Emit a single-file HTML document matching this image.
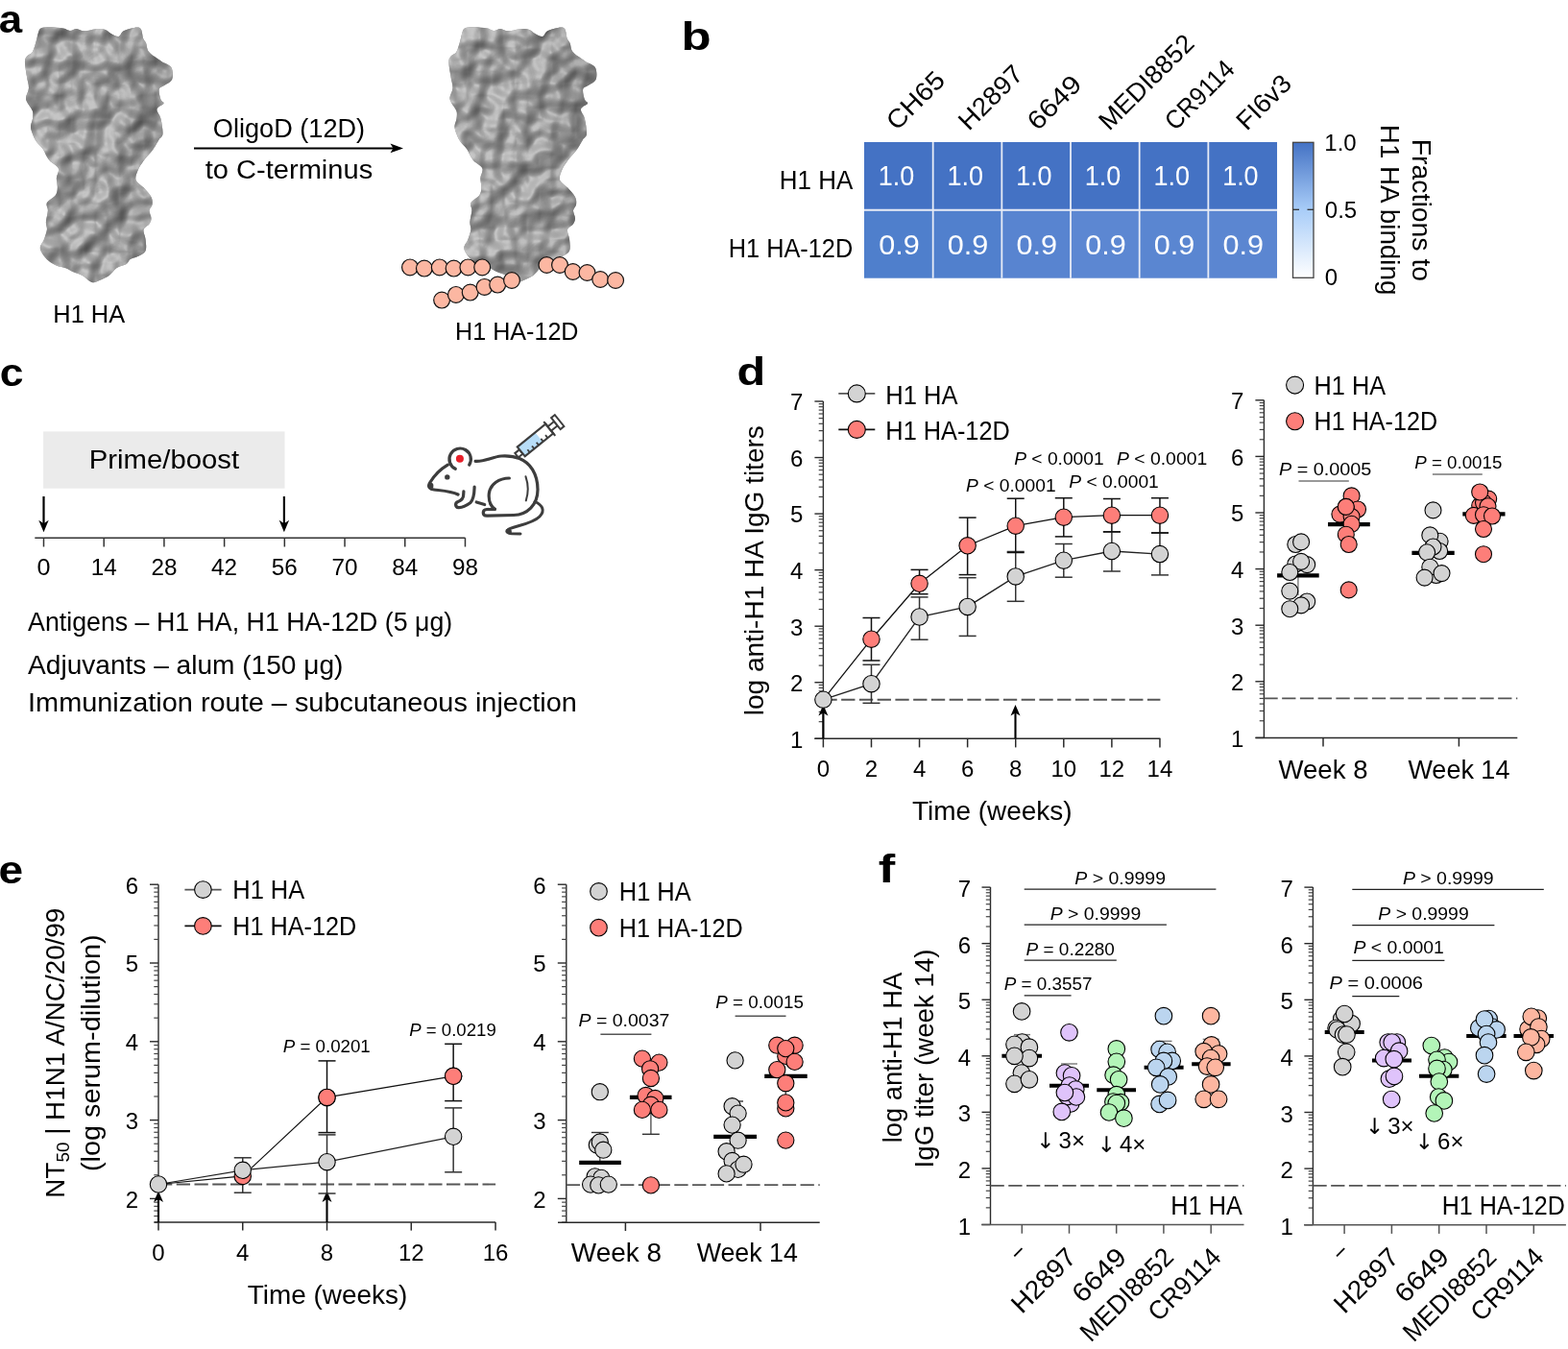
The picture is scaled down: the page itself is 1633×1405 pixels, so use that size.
<!DOCTYPE html><html><head><meta charset="utf-8"><title>Figure</title><style>html,body{margin:0;padding:0;background:#fff;overflow:hidden;width:1633px;height:1405px;}svg{display:block;} text{font-family:"Liberation Sans",sans-serif;}</style></head><body><svg width="1633" height="1405" viewBox="0 0 1633 1405" font-family="Liberation Sans, sans-serif"><rect width="1633" height="1405" fill="#fff"/><text x="-1.2" y="34.4" font-size="41" textLength="24.4" lengthAdjust="spacingAndGlyphs" font-weight="bold">a</text>
<defs><filter id="bump" x="0" y="0" width="100%" height="100%" filterUnits="objectBoundingBox" color-interpolation-filters="sRGB"><feTurbulence type="fractalNoise" baseFrequency="0.04" numOctaves="2" seed="11" result="n"/><feDiffuseLighting in="n" surfaceScale="9" diffuseConstant="1" lighting-color="#ffffff" result="l"><feDistantLight azimuth="225" elevation="48"/></feDiffuseLighting><feColorMatrix in="l" type="matrix" values="0.38 0 0 0 0.305  0.38 0 0 0 0.305  0.38 0 0 0 0.305  0 0 0 0 1" result="g"/><feSpecularLighting in="n" surfaceScale="9" specularConstant="0.12" specularExponent="25" lighting-color="#ffffff" result="sp"><feDistantLight azimuth="225" elevation="55"/></feSpecularLighting><feComposite in="sp" in2="g" operator="arithmetic" k1="0" k2="1" k3="1" k4="0" result="g2"/><feComposite in="g2" in2="SourceAlpha" operator="in"/></filter><linearGradient id="pshade" x1="0" y1="0" x2="1" y2="0"><stop offset="0" stop-color="#000" stop-opacity="0"/><stop offset="0.55" stop-color="#000" stop-opacity="0"/><stop offset="1" stop-color="#000" stop-opacity="0.12"/></linearGradient></defs>
<path d="M42.92 29.37 C44.91 28.44 48.07 28.34 51.89 28.37 C55.7 28.4 62.35 28.97 65.83 29.57 C69.32 30.16 70.48 31.89 72.81 31.96 C75.13 32.02 77.29 29.9 79.78 29.96 C82.28 30.03 84.1 32.36 87.76 32.36 C91.41 32.36 98.05 30.2 101.71 29.96 C105.36 29.73 107.35 30.13 109.68 30.96 C112 31.79 113.33 33.78 115.66 34.95 C117.98 36.11 121.47 38.37 123.63 37.94 C125.79 37.5 125.95 33.85 128.61 32.36 C131.27 30.86 136.58 29.37 139.57 28.97 C142.56 28.57 144.95 28.14 146.54 29.96 C148.14 31.79 148.21 37.44 149.14 39.93 C150.07 42.42 151.09 42.52 152.12 44.91 C153.15 47.3 152.69 51.15 155.31 54.28 C157.94 57.4 164.05 61.02 167.87 63.64 C171.69 66.27 176.34 66.9 178.23 70.02 C180.12 73.14 180.36 79.25 179.23 82.38 C178.1 85.5 173.71 86.99 171.45 88.75 C169.2 90.51 166.34 90.45 165.68 92.94 C165.01 95.43 166.67 101.24 167.47 103.7 C168.27 106.16 171.12 106.02 170.46 107.68 C169.79 109.35 163.98 111.01 163.48 113.66 C162.99 116.32 166.47 119.31 167.47 123.63 C168.47 127.94 169.79 135.92 169.46 139.57 C169.13 143.22 167.14 142.89 165.48 145.55 C163.82 148.21 162.15 151.86 159.5 155.51 C156.84 159.17 152.19 163.82 149.53 167.47 C146.88 171.12 144.88 174.11 143.56 177.43 C142.23 180.75 140.57 184.41 141.56 187.4 C142.56 190.39 146.88 192.38 149.53 195.37 C152.19 198.36 156.01 202.34 157.5 205.33 C159 208.32 158.83 210.98 158.5 213.3 C158.17 215.63 155.68 216.96 155.51 219.28 C155.35 221.61 157.5 224.93 157.5 227.25 C157.5 229.58 156.84 231.24 155.51 233.23 C154.18 235.23 150.2 236.55 149.53 239.21 C148.87 241.87 151.19 245.52 151.53 249.17 C151.86 252.83 152.86 258.14 151.53 261.13 C150.2 264.12 146.21 265.62 143.56 267.11 C140.9 268.61 137.58 268.77 135.58 270.1 C133.59 271.43 133.92 273.59 131.6 275.08 C129.27 276.58 124.62 277.07 121.63 279.07 C118.64 281.06 116.65 284.88 113.66 287.04 C110.67 289.2 106.69 290.86 103.7 292.02 C100.71 293.18 98.72 294.84 95.73 294.01 C92.74 293.18 89.08 288.87 85.76 287.04 C82.44 285.21 78.79 284.38 75.8 283.05 C72.81 281.72 70.48 280.06 67.83 279.07 C65.17 278.07 62.85 278.4 59.86 277.07 C56.87 275.75 52.88 274.09 49.89 271.1 C46.9 268.11 42.59 262.79 41.92 259.14 C41.26 255.49 44.74 252.5 45.91 249.17 C47.07 245.85 48.56 242.2 48.9 239.21 C49.23 236.22 47.73 234.56 47.9 231.24 C48.07 227.92 49.73 222.6 49.89 219.28 C50.06 215.96 47.57 213.97 48.9 211.31 C50.22 208.65 56.04 206 57.86 203.34 C59.69 200.68 59.69 198.36 59.86 195.37 C60.02 192.38 58.69 188.73 58.86 185.4 C59.03 182.08 62.02 178.43 60.85 175.44 C59.69 172.45 54.04 169.79 51.89 167.47 C49.73 165.14 49.06 163.48 47.9 161.49 C46.74 159.5 46.57 157.84 44.91 155.51 C43.25 153.19 39.76 150.2 37.94 147.54 C36.11 144.88 34.95 142.23 33.95 139.57 C32.95 136.91 31.96 134.26 31.96 131.6 C31.96 128.94 33.62 126.28 33.95 123.63 C34.28 120.97 34.78 118.31 33.95 115.66 C33.12 113 30.13 110.01 28.97 107.68 C27.81 105.36 26.81 104.36 26.97 101.71 C27.14 99.05 29.8 95.4 29.96 91.74 C30.13 88.09 28.64 84.43 27.97 79.78 C27.31 75.13 25.81 67.5 25.98 63.84 C26.14 60.19 27.64 59.52 28.97 57.86 C30.3 56.2 32.46 56.54 33.95 53.88 C35.44 51.22 36.94 45.24 37.94 41.92 C38.93 38.6 39.1 36.04 39.93 33.95 C40.76 31.86 40.92 30.3 42.92 29.37Z" fill="#999"/>
<path d="M42.92 29.37 C44.91 28.44 48.07 28.34 51.89 28.37 C55.7 28.4 62.35 28.97 65.83 29.57 C69.32 30.16 70.48 31.89 72.81 31.96 C75.13 32.02 77.29 29.9 79.78 29.96 C82.28 30.03 84.1 32.36 87.76 32.36 C91.41 32.36 98.05 30.2 101.71 29.96 C105.36 29.73 107.35 30.13 109.68 30.96 C112 31.79 113.33 33.78 115.66 34.95 C117.98 36.11 121.47 38.37 123.63 37.94 C125.79 37.5 125.95 33.85 128.61 32.36 C131.27 30.86 136.58 29.37 139.57 28.97 C142.56 28.57 144.95 28.14 146.54 29.96 C148.14 31.79 148.21 37.44 149.14 39.93 C150.07 42.42 151.09 42.52 152.12 44.91 C153.15 47.3 152.69 51.15 155.31 54.28 C157.94 57.4 164.05 61.02 167.87 63.64 C171.69 66.27 176.34 66.9 178.23 70.02 C180.12 73.14 180.36 79.25 179.23 82.38 C178.1 85.5 173.71 86.99 171.45 88.75 C169.2 90.51 166.34 90.45 165.68 92.94 C165.01 95.43 166.67 101.24 167.47 103.7 C168.27 106.16 171.12 106.02 170.46 107.68 C169.79 109.35 163.98 111.01 163.48 113.66 C162.99 116.32 166.47 119.31 167.47 123.63 C168.47 127.94 169.79 135.92 169.46 139.57 C169.13 143.22 167.14 142.89 165.48 145.55 C163.82 148.21 162.15 151.86 159.5 155.51 C156.84 159.17 152.19 163.82 149.53 167.47 C146.88 171.12 144.88 174.11 143.56 177.43 C142.23 180.75 140.57 184.41 141.56 187.4 C142.56 190.39 146.88 192.38 149.53 195.37 C152.19 198.36 156.01 202.34 157.5 205.33 C159 208.32 158.83 210.98 158.5 213.3 C158.17 215.63 155.68 216.96 155.51 219.28 C155.35 221.61 157.5 224.93 157.5 227.25 C157.5 229.58 156.84 231.24 155.51 233.23 C154.18 235.23 150.2 236.55 149.53 239.21 C148.87 241.87 151.19 245.52 151.53 249.17 C151.86 252.83 152.86 258.14 151.53 261.13 C150.2 264.12 146.21 265.62 143.56 267.11 C140.9 268.61 137.58 268.77 135.58 270.1 C133.59 271.43 133.92 273.59 131.6 275.08 C129.27 276.58 124.62 277.07 121.63 279.07 C118.64 281.06 116.65 284.88 113.66 287.04 C110.67 289.2 106.69 290.86 103.7 292.02 C100.71 293.18 98.72 294.84 95.73 294.01 C92.74 293.18 89.08 288.87 85.76 287.04 C82.44 285.21 78.79 284.38 75.8 283.05 C72.81 281.72 70.48 280.06 67.83 279.07 C65.17 278.07 62.85 278.4 59.86 277.07 C56.87 275.75 52.88 274.09 49.89 271.1 C46.9 268.11 42.59 262.79 41.92 259.14 C41.26 255.49 44.74 252.5 45.91 249.17 C47.07 245.85 48.56 242.2 48.9 239.21 C49.23 236.22 47.73 234.56 47.9 231.24 C48.07 227.92 49.73 222.6 49.89 219.28 C50.06 215.96 47.57 213.97 48.9 211.31 C50.22 208.65 56.04 206 57.86 203.34 C59.69 200.68 59.69 198.36 59.86 195.37 C60.02 192.38 58.69 188.73 58.86 185.4 C59.03 182.08 62.02 178.43 60.85 175.44 C59.69 172.45 54.04 169.79 51.89 167.47 C49.73 165.14 49.06 163.48 47.9 161.49 C46.74 159.5 46.57 157.84 44.91 155.51 C43.25 153.19 39.76 150.2 37.94 147.54 C36.11 144.88 34.95 142.23 33.95 139.57 C32.95 136.91 31.96 134.26 31.96 131.6 C31.96 128.94 33.62 126.28 33.95 123.63 C34.28 120.97 34.78 118.31 33.95 115.66 C33.12 113 30.13 110.01 28.97 107.68 C27.81 105.36 26.81 104.36 26.97 101.71 C27.14 99.05 29.8 95.4 29.96 91.74 C30.13 88.09 28.64 84.43 27.97 79.78 C27.31 75.13 25.81 67.5 25.98 63.84 C26.14 60.19 27.64 59.52 28.97 57.86 C30.3 56.2 32.46 56.54 33.95 53.88 C35.44 51.22 36.94 45.24 37.94 41.92 C38.93 38.6 39.1 36.04 39.93 33.95 C40.76 31.86 40.92 30.3 42.92 29.37Z" fill="#999" filter="url(#bump)"/>
<path d="M42.92 29.37 C44.91 28.44 48.07 28.34 51.89 28.37 C55.7 28.4 62.35 28.97 65.83 29.57 C69.32 30.16 70.48 31.89 72.81 31.96 C75.13 32.02 77.29 29.9 79.78 29.96 C82.28 30.03 84.1 32.36 87.76 32.36 C91.41 32.36 98.05 30.2 101.71 29.96 C105.36 29.73 107.35 30.13 109.68 30.96 C112 31.79 113.33 33.78 115.66 34.95 C117.98 36.11 121.47 38.37 123.63 37.94 C125.79 37.5 125.95 33.85 128.61 32.36 C131.27 30.86 136.58 29.37 139.57 28.97 C142.56 28.57 144.95 28.14 146.54 29.96 C148.14 31.79 148.21 37.44 149.14 39.93 C150.07 42.42 151.09 42.52 152.12 44.91 C153.15 47.3 152.69 51.15 155.31 54.28 C157.94 57.4 164.05 61.02 167.87 63.64 C171.69 66.27 176.34 66.9 178.23 70.02 C180.12 73.14 180.36 79.25 179.23 82.38 C178.1 85.5 173.71 86.99 171.45 88.75 C169.2 90.51 166.34 90.45 165.68 92.94 C165.01 95.43 166.67 101.24 167.47 103.7 C168.27 106.16 171.12 106.02 170.46 107.68 C169.79 109.35 163.98 111.01 163.48 113.66 C162.99 116.32 166.47 119.31 167.47 123.63 C168.47 127.94 169.79 135.92 169.46 139.57 C169.13 143.22 167.14 142.89 165.48 145.55 C163.82 148.21 162.15 151.86 159.5 155.51 C156.84 159.17 152.19 163.82 149.53 167.47 C146.88 171.12 144.88 174.11 143.56 177.43 C142.23 180.75 140.57 184.41 141.56 187.4 C142.56 190.39 146.88 192.38 149.53 195.37 C152.19 198.36 156.01 202.34 157.5 205.33 C159 208.32 158.83 210.98 158.5 213.3 C158.17 215.63 155.68 216.96 155.51 219.28 C155.35 221.61 157.5 224.93 157.5 227.25 C157.5 229.58 156.84 231.24 155.51 233.23 C154.18 235.23 150.2 236.55 149.53 239.21 C148.87 241.87 151.19 245.52 151.53 249.17 C151.86 252.83 152.86 258.14 151.53 261.13 C150.2 264.12 146.21 265.62 143.56 267.11 C140.9 268.61 137.58 268.77 135.58 270.1 C133.59 271.43 133.92 273.59 131.6 275.08 C129.27 276.58 124.62 277.07 121.63 279.07 C118.64 281.06 116.65 284.88 113.66 287.04 C110.67 289.2 106.69 290.86 103.7 292.02 C100.71 293.18 98.72 294.84 95.73 294.01 C92.74 293.18 89.08 288.87 85.76 287.04 C82.44 285.21 78.79 284.38 75.8 283.05 C72.81 281.72 70.48 280.06 67.83 279.07 C65.17 278.07 62.85 278.4 59.86 277.07 C56.87 275.75 52.88 274.09 49.89 271.1 C46.9 268.11 42.59 262.79 41.92 259.14 C41.26 255.49 44.74 252.5 45.91 249.17 C47.07 245.85 48.56 242.2 48.9 239.21 C49.23 236.22 47.73 234.56 47.9 231.24 C48.07 227.92 49.73 222.6 49.89 219.28 C50.06 215.96 47.57 213.97 48.9 211.31 C50.22 208.65 56.04 206 57.86 203.34 C59.69 200.68 59.69 198.36 59.86 195.37 C60.02 192.38 58.69 188.73 58.86 185.4 C59.03 182.08 62.02 178.43 60.85 175.44 C59.69 172.45 54.04 169.79 51.89 167.47 C49.73 165.14 49.06 163.48 47.9 161.49 C46.74 159.5 46.57 157.84 44.91 155.51 C43.25 153.19 39.76 150.2 37.94 147.54 C36.11 144.88 34.95 142.23 33.95 139.57 C32.95 136.91 31.96 134.26 31.96 131.6 C31.96 128.94 33.62 126.28 33.95 123.63 C34.28 120.97 34.78 118.31 33.95 115.66 C33.12 113 30.13 110.01 28.97 107.68 C27.81 105.36 26.81 104.36 26.97 101.71 C27.14 99.05 29.8 95.4 29.96 91.74 C30.13 88.09 28.64 84.43 27.97 79.78 C27.31 75.13 25.81 67.5 25.98 63.84 C26.14 60.19 27.64 59.52 28.97 57.86 C30.3 56.2 32.46 56.54 33.95 53.88 C35.44 51.22 36.94 45.24 37.94 41.92 C38.93 38.6 39.1 36.04 39.93 33.95 C40.76 31.86 40.92 30.3 42.92 29.37Z" fill="url(#pshade)"/>
<path d="M484.42 29.37 C486.41 28.44 489.57 28.34 493.39 28.37 C497.2 28.4 503.85 28.97 507.33 29.57 C510.82 30.16 511.98 31.89 514.31 31.96 C516.63 32.02 518.79 29.9 521.28 29.96 C523.78 30.03 525.6 32.36 529.26 32.36 C532.91 32.36 539.55 30.2 543.21 29.96 C546.86 29.73 548.85 30.13 551.18 30.96 C553.5 31.79 554.83 33.78 557.16 34.95 C559.48 36.11 562.97 38.37 565.13 37.94 C567.29 37.5 567.45 33.85 570.11 32.36 C572.77 30.86 578.08 29.37 581.07 28.97 C584.06 28.57 586.45 28.14 588.04 29.96 C589.64 31.79 589.71 37.44 590.64 39.93 C591.57 42.42 592.59 42.52 593.62 44.91 C594.65 47.3 594.19 51.15 596.81 54.28 C599.44 57.4 605.55 61.02 609.37 63.64 C613.19 66.27 617.84 66.9 619.73 70.02 C621.62 73.14 621.86 79.25 620.73 82.38 C619.6 85.5 615.21 86.99 612.95 88.75 C610.7 90.51 607.84 90.45 607.18 92.94 C606.51 95.43 608.17 101.24 608.97 103.7 C609.77 106.16 612.62 106.02 611.96 107.68 C611.29 109.35 605.48 111.01 604.98 113.66 C604.49 116.32 607.97 119.31 608.97 123.63 C609.97 127.94 611.29 135.92 610.96 139.57 C610.63 143.22 608.64 142.89 606.98 145.55 C605.32 148.21 603.65 151.86 601 155.51 C598.34 159.17 593.69 163.82 591.03 167.47 C588.38 171.12 586.38 174.11 585.06 177.43 C583.73 180.75 582.07 184.41 583.06 187.4 C584.06 190.39 588.38 192.38 591.03 195.37 C593.69 198.36 597.51 202.34 599 205.33 C600.5 208.32 600.33 210.98 600 213.3 C599.67 215.63 597.18 216.96 597.01 219.28 C596.85 221.61 599 224.93 599 227.25 C599 229.58 598.34 231.24 597.01 233.23 C595.68 235.23 591.7 236.55 591.03 239.21 C590.37 241.87 592.69 245.52 593.03 249.17 C593.36 252.83 594.36 258.14 593.03 261.13 C591.7 264.12 587.71 265.62 585.06 267.11 C582.4 268.61 579.08 268.77 577.08 270.1 C575.09 271.43 575.42 273.59 573.1 275.08 C570.77 276.58 566.12 277.07 563.13 279.07 C560.14 281.06 558.15 284.88 555.16 287.04 C552.17 289.2 548.19 290.86 545.2 292.02 C542.21 293.18 540.22 294.84 537.23 294.01 C534.24 293.18 530.58 288.87 527.26 287.04 C523.94 285.21 520.29 284.38 517.3 283.05 C514.31 281.72 511.98 280.06 509.33 279.07 C506.67 278.07 504.35 278.4 501.36 277.07 C498.37 275.75 494.38 274.09 491.39 271.1 C488.4 268.11 484.09 262.79 483.42 259.14 C482.76 255.49 486.24 252.5 487.41 249.17 C488.57 245.85 490.06 242.2 490.4 239.21 C490.73 236.22 489.23 234.56 489.4 231.24 C489.57 227.92 491.23 222.6 491.39 219.28 C491.56 215.96 489.07 213.97 490.4 211.31 C491.72 208.65 497.54 206 499.36 203.34 C501.19 200.68 501.19 198.36 501.36 195.37 C501.52 192.38 500.19 188.73 500.36 185.4 C500.53 182.08 503.52 178.43 502.35 175.44 C501.19 172.45 495.54 169.79 493.39 167.47 C491.23 165.14 490.56 163.48 489.4 161.49 C488.24 159.5 488.07 157.84 486.41 155.51 C484.75 153.19 481.26 150.2 479.44 147.54 C477.61 144.88 476.45 142.23 475.45 139.57 C474.45 136.91 473.46 134.26 473.46 131.6 C473.46 128.94 475.12 126.28 475.45 123.63 C475.78 120.97 476.28 118.31 475.45 115.66 C474.62 113 471.63 110.01 470.47 107.68 C469.31 105.36 468.31 104.36 468.47 101.71 C468.64 99.05 471.3 95.4 471.46 91.74 C471.63 88.09 470.14 84.43 469.47 79.78 C468.81 75.13 467.31 67.5 467.48 63.84 C467.64 60.19 469.14 59.52 470.47 57.86 C471.8 56.2 473.96 56.54 475.45 53.88 C476.94 51.22 478.44 45.24 479.44 41.92 C480.43 38.6 480.6 36.04 481.43 33.95 C482.26 31.86 482.42 30.3 484.42 29.37Z" fill="#999"/>
<path d="M484.42 29.37 C486.41 28.44 489.57 28.34 493.39 28.37 C497.2 28.4 503.85 28.97 507.33 29.57 C510.82 30.16 511.98 31.89 514.31 31.96 C516.63 32.02 518.79 29.9 521.28 29.96 C523.78 30.03 525.6 32.36 529.26 32.36 C532.91 32.36 539.55 30.2 543.21 29.96 C546.86 29.73 548.85 30.13 551.18 30.96 C553.5 31.79 554.83 33.78 557.16 34.95 C559.48 36.11 562.97 38.37 565.13 37.94 C567.29 37.5 567.45 33.85 570.11 32.36 C572.77 30.86 578.08 29.37 581.07 28.97 C584.06 28.57 586.45 28.14 588.04 29.96 C589.64 31.79 589.71 37.44 590.64 39.93 C591.57 42.42 592.59 42.52 593.62 44.91 C594.65 47.3 594.19 51.15 596.81 54.28 C599.44 57.4 605.55 61.02 609.37 63.64 C613.19 66.27 617.84 66.9 619.73 70.02 C621.62 73.14 621.86 79.25 620.73 82.38 C619.6 85.5 615.21 86.99 612.95 88.75 C610.7 90.51 607.84 90.45 607.18 92.94 C606.51 95.43 608.17 101.24 608.97 103.7 C609.77 106.16 612.62 106.02 611.96 107.68 C611.29 109.35 605.48 111.01 604.98 113.66 C604.49 116.32 607.97 119.31 608.97 123.63 C609.97 127.94 611.29 135.92 610.96 139.57 C610.63 143.22 608.64 142.89 606.98 145.55 C605.32 148.21 603.65 151.86 601 155.51 C598.34 159.17 593.69 163.82 591.03 167.47 C588.38 171.12 586.38 174.11 585.06 177.43 C583.73 180.75 582.07 184.41 583.06 187.4 C584.06 190.39 588.38 192.38 591.03 195.37 C593.69 198.36 597.51 202.34 599 205.33 C600.5 208.32 600.33 210.98 600 213.3 C599.67 215.63 597.18 216.96 597.01 219.28 C596.85 221.61 599 224.93 599 227.25 C599 229.58 598.34 231.24 597.01 233.23 C595.68 235.23 591.7 236.55 591.03 239.21 C590.37 241.87 592.69 245.52 593.03 249.17 C593.36 252.83 594.36 258.14 593.03 261.13 C591.7 264.12 587.71 265.62 585.06 267.11 C582.4 268.61 579.08 268.77 577.08 270.1 C575.09 271.43 575.42 273.59 573.1 275.08 C570.77 276.58 566.12 277.07 563.13 279.07 C560.14 281.06 558.15 284.88 555.16 287.04 C552.17 289.2 548.19 290.86 545.2 292.02 C542.21 293.18 540.22 294.84 537.23 294.01 C534.24 293.18 530.58 288.87 527.26 287.04 C523.94 285.21 520.29 284.38 517.3 283.05 C514.31 281.72 511.98 280.06 509.33 279.07 C506.67 278.07 504.35 278.4 501.36 277.07 C498.37 275.75 494.38 274.09 491.39 271.1 C488.4 268.11 484.09 262.79 483.42 259.14 C482.76 255.49 486.24 252.5 487.41 249.17 C488.57 245.85 490.06 242.2 490.4 239.21 C490.73 236.22 489.23 234.56 489.4 231.24 C489.57 227.92 491.23 222.6 491.39 219.28 C491.56 215.96 489.07 213.97 490.4 211.31 C491.72 208.65 497.54 206 499.36 203.34 C501.19 200.68 501.19 198.36 501.36 195.37 C501.52 192.38 500.19 188.73 500.36 185.4 C500.53 182.08 503.52 178.43 502.35 175.44 C501.19 172.45 495.54 169.79 493.39 167.47 C491.23 165.14 490.56 163.48 489.4 161.49 C488.24 159.5 488.07 157.84 486.41 155.51 C484.75 153.19 481.26 150.2 479.44 147.54 C477.61 144.88 476.45 142.23 475.45 139.57 C474.45 136.91 473.46 134.26 473.46 131.6 C473.46 128.94 475.12 126.28 475.45 123.63 C475.78 120.97 476.28 118.31 475.45 115.66 C474.62 113 471.63 110.01 470.47 107.68 C469.31 105.36 468.31 104.36 468.47 101.71 C468.64 99.05 471.3 95.4 471.46 91.74 C471.63 88.09 470.14 84.43 469.47 79.78 C468.81 75.13 467.31 67.5 467.48 63.84 C467.64 60.19 469.14 59.52 470.47 57.86 C471.8 56.2 473.96 56.54 475.45 53.88 C476.94 51.22 478.44 45.24 479.44 41.92 C480.43 38.6 480.6 36.04 481.43 33.95 C482.26 31.86 482.42 30.3 484.42 29.37Z" fill="#999" filter="url(#bump)"/>
<path d="M484.42 29.37 C486.41 28.44 489.57 28.34 493.39 28.37 C497.2 28.4 503.85 28.97 507.33 29.57 C510.82 30.16 511.98 31.89 514.31 31.96 C516.63 32.02 518.79 29.9 521.28 29.96 C523.78 30.03 525.6 32.36 529.26 32.36 C532.91 32.36 539.55 30.2 543.21 29.96 C546.86 29.73 548.85 30.13 551.18 30.96 C553.5 31.79 554.83 33.78 557.16 34.95 C559.48 36.11 562.97 38.37 565.13 37.94 C567.29 37.5 567.45 33.85 570.11 32.36 C572.77 30.86 578.08 29.37 581.07 28.97 C584.06 28.57 586.45 28.14 588.04 29.96 C589.64 31.79 589.71 37.44 590.64 39.93 C591.57 42.42 592.59 42.52 593.62 44.91 C594.65 47.3 594.19 51.15 596.81 54.28 C599.44 57.4 605.55 61.02 609.37 63.64 C613.19 66.27 617.84 66.9 619.73 70.02 C621.62 73.14 621.86 79.25 620.73 82.38 C619.6 85.5 615.21 86.99 612.95 88.75 C610.7 90.51 607.84 90.45 607.18 92.94 C606.51 95.43 608.17 101.24 608.97 103.7 C609.77 106.16 612.62 106.02 611.96 107.68 C611.29 109.35 605.48 111.01 604.98 113.66 C604.49 116.32 607.97 119.31 608.97 123.63 C609.97 127.94 611.29 135.92 610.96 139.57 C610.63 143.22 608.64 142.89 606.98 145.55 C605.32 148.21 603.65 151.86 601 155.51 C598.34 159.17 593.69 163.82 591.03 167.47 C588.38 171.12 586.38 174.11 585.06 177.43 C583.73 180.75 582.07 184.41 583.06 187.4 C584.06 190.39 588.38 192.38 591.03 195.37 C593.69 198.36 597.51 202.34 599 205.33 C600.5 208.32 600.33 210.98 600 213.3 C599.67 215.63 597.18 216.96 597.01 219.28 C596.85 221.61 599 224.93 599 227.25 C599 229.58 598.34 231.24 597.01 233.23 C595.68 235.23 591.7 236.55 591.03 239.21 C590.37 241.87 592.69 245.52 593.03 249.17 C593.36 252.83 594.36 258.14 593.03 261.13 C591.7 264.12 587.71 265.62 585.06 267.11 C582.4 268.61 579.08 268.77 577.08 270.1 C575.09 271.43 575.42 273.59 573.1 275.08 C570.77 276.58 566.12 277.07 563.13 279.07 C560.14 281.06 558.15 284.88 555.16 287.04 C552.17 289.2 548.19 290.86 545.2 292.02 C542.21 293.18 540.22 294.84 537.23 294.01 C534.24 293.18 530.58 288.87 527.26 287.04 C523.94 285.21 520.29 284.38 517.3 283.05 C514.31 281.72 511.98 280.06 509.33 279.07 C506.67 278.07 504.35 278.4 501.36 277.07 C498.37 275.75 494.38 274.09 491.39 271.1 C488.4 268.11 484.09 262.79 483.42 259.14 C482.76 255.49 486.24 252.5 487.41 249.17 C488.57 245.85 490.06 242.2 490.4 239.21 C490.73 236.22 489.23 234.56 489.4 231.24 C489.57 227.92 491.23 222.6 491.39 219.28 C491.56 215.96 489.07 213.97 490.4 211.31 C491.72 208.65 497.54 206 499.36 203.34 C501.19 200.68 501.19 198.36 501.36 195.37 C501.52 192.38 500.19 188.73 500.36 185.4 C500.53 182.08 503.52 178.43 502.35 175.44 C501.19 172.45 495.54 169.79 493.39 167.47 C491.23 165.14 490.56 163.48 489.4 161.49 C488.24 159.5 488.07 157.84 486.41 155.51 C484.75 153.19 481.26 150.2 479.44 147.54 C477.61 144.88 476.45 142.23 475.45 139.57 C474.45 136.91 473.46 134.26 473.46 131.6 C473.46 128.94 475.12 126.28 475.45 123.63 C475.78 120.97 476.28 118.31 475.45 115.66 C474.62 113 471.63 110.01 470.47 107.68 C469.31 105.36 468.31 104.36 468.47 101.71 C468.64 99.05 471.3 95.4 471.46 91.74 C471.63 88.09 470.14 84.43 469.47 79.78 C468.81 75.13 467.31 67.5 467.48 63.84 C467.64 60.19 469.14 59.52 470.47 57.86 C471.8 56.2 473.96 56.54 475.45 53.88 C476.94 51.22 478.44 45.24 479.44 41.92 C480.43 38.6 480.6 36.04 481.43 33.95 C482.26 31.86 482.42 30.3 484.42 29.37Z" fill="url(#pshade)"/>
<circle cx="427" cy="278.4" r="8.4" fill="#fcb7a2" stroke="#111" stroke-width="1.2"/>
<circle cx="441.9" cy="279.6" r="8.4" fill="#fcb7a2" stroke="#111" stroke-width="1.2"/>
<circle cx="457.8" cy="278.4" r="8.4" fill="#fcb7a2" stroke="#111" stroke-width="1.2"/>
<circle cx="472.6" cy="279.6" r="8.4" fill="#fcb7a2" stroke="#111" stroke-width="1.2"/>
<circle cx="487.4" cy="278.4" r="8.4" fill="#fcb7a2" stroke="#111" stroke-width="1.2"/>
<circle cx="502.2" cy="278.4" r="8.4" fill="#fcb7a2" stroke="#111" stroke-width="1.2"/>
<circle cx="460.1" cy="312.6" r="8.4" fill="#fcb7a2" stroke="#111" stroke-width="1.2"/>
<circle cx="474.9" cy="306.9" r="8.4" fill="#fcb7a2" stroke="#111" stroke-width="1.2"/>
<circle cx="489.7" cy="304.6" r="8.4" fill="#fcb7a2" stroke="#111" stroke-width="1.2"/>
<circle cx="504.5" cy="298.9" r="8.4" fill="#fcb7a2" stroke="#111" stroke-width="1.2"/>
<circle cx="518.2" cy="296.6" r="8.4" fill="#fcb7a2" stroke="#111" stroke-width="1.2"/>
<circle cx="533" cy="292" r="8.4" fill="#fcb7a2" stroke="#111" stroke-width="1.2"/>
<circle cx="569.4" cy="276" r="8.4" fill="#fcb7a2" stroke="#111" stroke-width="1.2"/>
<circle cx="583" cy="276" r="8.4" fill="#fcb7a2" stroke="#111" stroke-width="1.2"/>
<circle cx="596.7" cy="283" r="8.4" fill="#fcb7a2" stroke="#111" stroke-width="1.2"/>
<circle cx="611.5" cy="284" r="8.4" fill="#fcb7a2" stroke="#111" stroke-width="1.2"/>
<circle cx="625.2" cy="291" r="8.4" fill="#fcb7a2" stroke="#111" stroke-width="1.2"/>
<circle cx="641.1" cy="292" r="8.4" fill="#fcb7a2" stroke="#111" stroke-width="1.2"/>
<text x="55.31" y="335.6" font-size="26.5" textLength="74.79" lengthAdjust="spacingAndGlyphs">H1 HA</text>
<text x="474.11" y="354" font-size="26.5" textLength="128.38" lengthAdjust="spacingAndGlyphs">H1 HA-12D</text>
<text x="221.88" y="142.6" font-size="27" textLength="158.23" lengthAdjust="spacingAndGlyphs">OligoD (12D)</text>
<text x="213.78" y="185.9" font-size="27" textLength="174.43" lengthAdjust="spacingAndGlyphs">to C-terminus</text>
<line x1="202" y1="154.4" x2="410" y2="154.4" stroke="#000" stroke-width="2"/>
<path d="M420 154.4 L406.5 149.5 L409.5 154.4 L406.5 159.3 Z" fill="#000"/>
<text x="709.6" y="51.7" font-size="41" textLength="31.1" lengthAdjust="spacingAndGlyphs" font-weight="bold">b</text>
<rect x="900" y="148" width="71.67" height="70.5" fill="#4472c4"/>
<rect x="900" y="218.5" width="71.67" height="71.2" fill="#4f7fcc"/>
<rect x="971.67" y="148" width="71.67" height="70.5" fill="#4472c4"/>
<rect x="971.67" y="218.5" width="71.67" height="71.2" fill="#5180cd"/>
<rect x="1043.34" y="148" width="71.67" height="70.5" fill="#4472c4"/>
<rect x="1043.34" y="218.5" width="71.67" height="71.2" fill="#5884d0"/>
<rect x="1115.01" y="148" width="71.67" height="70.5" fill="#4472c4"/>
<rect x="1115.01" y="218.5" width="71.67" height="71.2" fill="#5c87d2"/>
<rect x="1186.68" y="148" width="71.67" height="70.5" fill="#4472c4"/>
<rect x="1186.68" y="218.5" width="71.67" height="71.2" fill="#5a86d1"/>
<rect x="1258.35" y="148" width="71.67" height="70.5" fill="#4472c4"/>
<rect x="1258.35" y="218.5" width="71.67" height="71.2" fill="#5b86d1"/>
<line x1="971.67" y1="148" x2="971.67" y2="289.7" stroke="#e8ecf6" stroke-width="1.8"/>
<line x1="1043.34" y1="148" x2="1043.34" y2="289.7" stroke="#e8ecf6" stroke-width="1.8"/>
<line x1="1115.01" y1="148" x2="1115.01" y2="289.7" stroke="#e8ecf6" stroke-width="1.8"/>
<line x1="1186.68" y1="148" x2="1186.68" y2="289.7" stroke="#e8ecf6" stroke-width="1.8"/>
<line x1="1258.35" y1="148" x2="1258.35" y2="289.7" stroke="#e8ecf6" stroke-width="1.8"/>
<line x1="900" y1="218.8" x2="1330" y2="218.8" stroke="#e8ecf6" stroke-width="2"/>
<text x="933.54" y="192.9" font-size="29.5" text-anchor="middle" textLength="37.5" lengthAdjust="spacingAndGlyphs" fill="#fff">1.0</text>
<text x="936.44" y="264.8" font-size="29.5" text-anchor="middle" textLength="42.5" lengthAdjust="spacingAndGlyphs" fill="#fff">0.9</text>
<text x="1005.2" y="192.9" font-size="29.5" text-anchor="middle" textLength="37.5" lengthAdjust="spacingAndGlyphs" fill="#fff">1.0</text>
<text x="1008.1" y="264.8" font-size="29.5" text-anchor="middle" textLength="42.5" lengthAdjust="spacingAndGlyphs" fill="#fff">0.9</text>
<text x="1076.88" y="192.9" font-size="29.5" text-anchor="middle" textLength="37.5" lengthAdjust="spacingAndGlyphs" fill="#fff">1.0</text>
<text x="1079.77" y="264.8" font-size="29.5" text-anchor="middle" textLength="42.5" lengthAdjust="spacingAndGlyphs" fill="#fff">0.9</text>
<text x="1148.55" y="192.9" font-size="29.5" text-anchor="middle" textLength="37.5" lengthAdjust="spacingAndGlyphs" fill="#fff">1.0</text>
<text x="1151.44" y="264.8" font-size="29.5" text-anchor="middle" textLength="42.5" lengthAdjust="spacingAndGlyphs" fill="#fff">0.9</text>
<text x="1220.21" y="192.9" font-size="29.5" text-anchor="middle" textLength="37.5" lengthAdjust="spacingAndGlyphs" fill="#fff">1.0</text>
<text x="1223.11" y="264.8" font-size="29.5" text-anchor="middle" textLength="42.5" lengthAdjust="spacingAndGlyphs" fill="#fff">0.9</text>
<text x="1291.88" y="192.9" font-size="29.5" text-anchor="middle" textLength="37.5" lengthAdjust="spacingAndGlyphs" fill="#fff">1.0</text>
<text x="1294.78" y="264.8" font-size="29.5" text-anchor="middle" textLength="42.5" lengthAdjust="spacingAndGlyphs" fill="#fff">0.9</text>
<text x="811.78" y="196.7" font-size="27" textLength="76.43" lengthAdjust="spacingAndGlyphs">H1 HA</text>
<text x="758.78" y="267.6" font-size="27" textLength="129.43" lengthAdjust="spacingAndGlyphs">H1 HA-12D</text>
<text x="933.94" y="137" font-size="27" textLength="73.3" lengthAdjust="spacingAndGlyphs" transform="rotate(-45 933.94 137)">CH65</text>
<text x="1009" y="137" font-size="27" textLength="82.2" lengthAdjust="spacingAndGlyphs" transform="rotate(-45 1009 137)">H2897</text>
<text x="1080.67" y="137" font-size="27" textLength="67.3" lengthAdjust="spacingAndGlyphs" transform="rotate(-45 1080.67 137)">6649</text>
<text x="1155.14" y="137" font-size="27" textLength="127.5" lengthAdjust="spacingAndGlyphs" transform="rotate(-45 1155.14 137)">MEDI8852</text>
<text x="1224.01" y="137" font-size="27" textLength="89.5" lengthAdjust="spacingAndGlyphs" transform="rotate(-45 1224.01 137)">CR9114</text>
<text x="1298.48" y="137" font-size="27" textLength="68.2" lengthAdjust="spacingAndGlyphs" transform="rotate(-45 1298.48 137)">FI6v3</text>
<defs><linearGradient id="cb" x1="0" y1="0" x2="0" y2="1"><stop offset="0" stop-color="#4472c4"/><stop offset="0.5" stop-color="#a9cdf8"/><stop offset="1" stop-color="#ffffff"/></linearGradient></defs>
<rect x="1346.5" y="148.3" width="21.5" height="141" fill="url(#cb)" stroke="#444" stroke-width="1.3"/>
<line x1="1346.5" y1="218.3" x2="1353" y2="218.3" stroke="#333" stroke-width="1.3"/>
<line x1="1361.5" y1="218.3" x2="1368" y2="218.3" stroke="#333" stroke-width="1.3"/>
<text x="1379.3" y="156.5" font-size="24">1.0</text>
<text x="1379.8" y="227.2" font-size="24">0.5</text>
<text x="1379.8" y="297.1" font-size="24">0</text>
<text x="1438.1" y="218.6" font-size="27.5" text-anchor="middle" textLength="177.5" lengthAdjust="spacingAndGlyphs" transform="rotate(90 1438.1 218.6)">H1 HA binding</text>
<text x="1470.9" y="218.9" font-size="27.5" text-anchor="middle" textLength="148.5" lengthAdjust="spacingAndGlyphs" transform="rotate(90 1470.9 218.9)">Fractions to</text>
<text x="-0.3" y="402.1" font-size="41" textLength="24.8" lengthAdjust="spacingAndGlyphs" font-weight="bold">c</text>
<rect x="45.1" y="449.4" width="251.4" height="59.3" fill="#ebebeb"/>
<text x="92.78" y="488.3" font-size="27" textLength="156.33" lengthAdjust="spacingAndGlyphs">Prime/boost</text>
<line x1="45.5" y1="517" x2="45.5" y2="546.7" stroke="#000" stroke-width="2.2"/>
<path d="M45.5 554.2 L50.7 541.7 L45.5 545.2 L40.3 541.7 Z" fill="#000"/>
<line x1="295.9" y1="517" x2="295.9" y2="546.7" stroke="#000" stroke-width="2.2"/>
<path d="M295.9 554.2 L301.1 541.7 L295.9 545.2 L290.7 541.7 Z" fill="#000"/>
<line x1="36.3" y1="560.2" x2="484.5" y2="560.2" stroke="#333" stroke-width="1.6"/>
<line x1="45.5" y1="560.2" x2="45.5" y2="569.5" stroke="#333" stroke-width="1.5"/>
<text x="45.5" y="599.2" font-size="23" text-anchor="middle" textLength="14" lengthAdjust="spacingAndGlyphs">0</text>
<line x1="108.21" y1="560.2" x2="108.21" y2="569.5" stroke="#333" stroke-width="1.5"/>
<text x="108.21" y="599.2" font-size="23" text-anchor="middle" textLength="27" lengthAdjust="spacingAndGlyphs">14</text>
<line x1="170.92" y1="560.2" x2="170.92" y2="569.5" stroke="#333" stroke-width="1.5"/>
<text x="170.92" y="599.2" font-size="23" text-anchor="middle" textLength="27" lengthAdjust="spacingAndGlyphs">28</text>
<line x1="233.63" y1="560.2" x2="233.63" y2="569.5" stroke="#333" stroke-width="1.5"/>
<text x="233.63" y="599.2" font-size="23" text-anchor="middle" textLength="27" lengthAdjust="spacingAndGlyphs">42</text>
<line x1="296.34" y1="560.2" x2="296.34" y2="569.5" stroke="#333" stroke-width="1.5"/>
<text x="296.34" y="599.2" font-size="23" text-anchor="middle" textLength="27" lengthAdjust="spacingAndGlyphs">56</text>
<line x1="359.05" y1="560.2" x2="359.05" y2="569.5" stroke="#333" stroke-width="1.5"/>
<text x="359.05" y="599.2" font-size="23" text-anchor="middle" textLength="27" lengthAdjust="spacingAndGlyphs">70</text>
<line x1="421.76" y1="560.2" x2="421.76" y2="569.5" stroke="#333" stroke-width="1.5"/>
<text x="421.76" y="599.2" font-size="23" text-anchor="middle" textLength="27" lengthAdjust="spacingAndGlyphs">84</text>
<line x1="484.47" y1="560.2" x2="484.47" y2="569.5" stroke="#333" stroke-width="1.5"/>
<text x="484.47" y="599.2" font-size="23" text-anchor="middle" textLength="27" lengthAdjust="spacingAndGlyphs">98</text>
<text x="29.06" y="657.4" font-size="27.5" textLength="442.18" lengthAdjust="spacingAndGlyphs">Antigens – H1 HA, H1 HA-12D (5 μg)</text>
<text x="29.06" y="701.5" font-size="27.5" textLength="328.38" lengthAdjust="spacingAndGlyphs">Adjuvants – alum (150 μg)</text>
<text x="29.06" y="741.2" font-size="27.5" textLength="571.88" lengthAdjust="spacingAndGlyphs">Immunization route – subcutaneous injection</text>
<path d="M474.3 488.3 A11.2 11.2 0 1 1 488.7 484.1" fill="none" stroke="#3d3d3d" stroke-width="3.2" stroke-linecap="round" stroke-linejoin="round"/>
<path d="M466.3 484.1 C458 489 451 497 447.5 503 C445 507.5 448 509.5 452 510 C460 511 470 511.5 477 515" fill="none" stroke="#3d3d3d" stroke-width="3.2" stroke-linecap="round" stroke-linejoin="round"/>
<ellipse cx="448.8" cy="506" rx="2.6" ry="3.2" fill="#3d3d3d"/>
<circle cx="465.8" cy="496.9" r="2.7" fill="#3d3d3d"/>
<circle cx="478.9" cy="477.7" r="4" fill="#e8202a"/>
<path d="M495.1 480.3 C505 481 512 476 522 475 C530 474.5 536 475.5 541 477.5 C552 482 560 493 560 510 C560 526 549 536 535 536.5 L507 537.2 C502 537 502 531 507 530.5 L515.4 530.3" fill="none" stroke="#3d3d3d" stroke-width="3.2" stroke-linecap="round" stroke-linejoin="round"/>
<path d="M530.4 498 C520 498 510.5 504 509.3 514 C508.6 521 511 527 515.4 530.3" fill="none" stroke="#3d3d3d" stroke-width="3.2" stroke-linecap="round" stroke-linejoin="round"/>
<path d="M547.5 496.3 C550.5 505 550.5 513 547.8 521.4" fill="none" stroke="#3d3d3d" stroke-width="2.0" stroke-linecap="round" stroke-linejoin="round"/>
<path d="M557.1 522.5 C565 526 568 532 562 538 C555 545 541 547 531.5 550.3 C526.5 552.3 528 555.5 533 555.8 L542 556" fill="none" stroke="#3d3d3d" stroke-width="3.0" stroke-linecap="round" stroke-linejoin="round"/>
<ellipse cx="529.6" cy="553.2" rx="3.2" ry="2.6" fill="#3d3d3d"/>
<path d="M494.1 507 C494 515 493.2 520 490 523.5 C486 526.5 480.5 528.8 477.5 528.6 C474 528.2 473.5 524 477 522.6 C480 521.3 482.6 520 482.6 516 L482.9 511.8" fill="none" stroke="#3d3d3d" stroke-width="3.2" stroke-linecap="round" stroke-linejoin="round"/>
<path d="M496.2 523 L504.7 525.5" fill="none" stroke="#3d3d3d" stroke-width="3.2" stroke-linecap="round" stroke-linejoin="round"/>
<g transform="translate(537.3 474.8) rotate(-39)"><rect x="1" y="-2.8" width="6" height="5.6" fill="#fff" stroke="#3d3d3d" stroke-width="2"/><rect x="7" y="-6.3" width="38" height="12.6" fill="#fff" stroke="none"/><rect x="7" y="-6.3" width="24" height="12.6" fill="#b8def9"/><rect x="7" y="-6.3" width="38" height="12.6" fill="none" stroke="#3d3d3d" stroke-width="2.1"/><line x1="13.5" y1="6.3" x2="13.5" y2="2.5" stroke="#3d3d3d" stroke-width="1.8"/><line x1="19.5" y1="6.3" x2="19.5" y2="2.5" stroke="#3d3d3d" stroke-width="1.8"/><line x1="25.5" y1="6.3" x2="25.5" y2="2.5" stroke="#3d3d3d" stroke-width="1.8"/><line x1="31.5" y1="6.3" x2="31.5" y2="2.5" stroke="#3d3d3d" stroke-width="1.8"/><line x1="37.5" y1="6.3" x2="37.5" y2="2.5" stroke="#3d3d3d" stroke-width="1.8"/><line x1="45" y1="-9.5" x2="45" y2="9.5" stroke="#3d3d3d" stroke-width="2.1"/><rect x="45" y="-2.8" width="8.5" height="5.6" fill="#fff" stroke="#3d3d3d" stroke-width="2"/><rect x="53.5" y="-7.6" width="4.8" height="15.2" fill="#fff" stroke="#3d3d3d" stroke-width="2"/></g>
<text x="767.5" y="401.1" font-size="41" textLength="29.7" lengthAdjust="spacingAndGlyphs" font-weight="bold">d</text>
<line x1="857.4" y1="769.3" x2="857.4" y2="418" stroke="#2a2a2a" stroke-width="1.4"/>
<line x1="848.4" y1="769.3" x2="857.4" y2="769.3" stroke="#2a2a2a" stroke-width="1.4"/>
<line x1="852.7" y1="751.67" x2="857.4" y2="751.67" stroke="#444" stroke-width="1.2"/>
<line x1="852.7" y1="741.36" x2="857.4" y2="741.36" stroke="#444" stroke-width="1.2"/>
<line x1="852.7" y1="734.05" x2="857.4" y2="734.05" stroke="#444" stroke-width="1.2"/>
<line x1="852.7" y1="728.38" x2="857.4" y2="728.38" stroke="#444" stroke-width="1.2"/>
<line x1="852.7" y1="723.74" x2="857.4" y2="723.74" stroke="#444" stroke-width="1.2"/>
<line x1="852.7" y1="719.82" x2="857.4" y2="719.82" stroke="#444" stroke-width="1.2"/>
<line x1="852.7" y1="716.42" x2="857.4" y2="716.42" stroke="#444" stroke-width="1.2"/>
<line x1="852.7" y1="713.43" x2="857.4" y2="713.43" stroke="#444" stroke-width="1.2"/>
<line x1="848.4" y1="710.75" x2="857.4" y2="710.75" stroke="#2a2a2a" stroke-width="1.4"/>
<line x1="852.7" y1="693.12" x2="857.4" y2="693.12" stroke="#444" stroke-width="1.2"/>
<line x1="852.7" y1="682.81" x2="857.4" y2="682.81" stroke="#444" stroke-width="1.2"/>
<line x1="852.7" y1="675.5" x2="857.4" y2="675.5" stroke="#444" stroke-width="1.2"/>
<line x1="852.7" y1="669.83" x2="857.4" y2="669.83" stroke="#444" stroke-width="1.2"/>
<line x1="852.7" y1="665.19" x2="857.4" y2="665.19" stroke="#444" stroke-width="1.2"/>
<line x1="852.7" y1="661.27" x2="857.4" y2="661.27" stroke="#444" stroke-width="1.2"/>
<line x1="852.7" y1="657.87" x2="857.4" y2="657.87" stroke="#444" stroke-width="1.2"/>
<line x1="852.7" y1="654.88" x2="857.4" y2="654.88" stroke="#444" stroke-width="1.2"/>
<line x1="848.4" y1="652.2" x2="857.4" y2="652.2" stroke="#2a2a2a" stroke-width="1.4"/>
<line x1="852.7" y1="634.57" x2="857.4" y2="634.57" stroke="#444" stroke-width="1.2"/>
<line x1="852.7" y1="624.26" x2="857.4" y2="624.26" stroke="#444" stroke-width="1.2"/>
<line x1="852.7" y1="616.95" x2="857.4" y2="616.95" stroke="#444" stroke-width="1.2"/>
<line x1="852.7" y1="611.28" x2="857.4" y2="611.28" stroke="#444" stroke-width="1.2"/>
<line x1="852.7" y1="606.64" x2="857.4" y2="606.64" stroke="#444" stroke-width="1.2"/>
<line x1="852.7" y1="602.72" x2="857.4" y2="602.72" stroke="#444" stroke-width="1.2"/>
<line x1="852.7" y1="599.32" x2="857.4" y2="599.32" stroke="#444" stroke-width="1.2"/>
<line x1="852.7" y1="596.33" x2="857.4" y2="596.33" stroke="#444" stroke-width="1.2"/>
<line x1="848.4" y1="593.65" x2="857.4" y2="593.65" stroke="#2a2a2a" stroke-width="1.4"/>
<line x1="852.7" y1="576.02" x2="857.4" y2="576.02" stroke="#444" stroke-width="1.2"/>
<line x1="852.7" y1="565.71" x2="857.4" y2="565.71" stroke="#444" stroke-width="1.2"/>
<line x1="852.7" y1="558.4" x2="857.4" y2="558.4" stroke="#444" stroke-width="1.2"/>
<line x1="852.7" y1="552.73" x2="857.4" y2="552.73" stroke="#444" stroke-width="1.2"/>
<line x1="852.7" y1="548.09" x2="857.4" y2="548.09" stroke="#444" stroke-width="1.2"/>
<line x1="852.7" y1="544.17" x2="857.4" y2="544.17" stroke="#444" stroke-width="1.2"/>
<line x1="852.7" y1="540.77" x2="857.4" y2="540.77" stroke="#444" stroke-width="1.2"/>
<line x1="852.7" y1="537.78" x2="857.4" y2="537.78" stroke="#444" stroke-width="1.2"/>
<line x1="848.4" y1="535.1" x2="857.4" y2="535.1" stroke="#2a2a2a" stroke-width="1.4"/>
<line x1="852.7" y1="517.47" x2="857.4" y2="517.47" stroke="#444" stroke-width="1.2"/>
<line x1="852.7" y1="507.16" x2="857.4" y2="507.16" stroke="#444" stroke-width="1.2"/>
<line x1="852.7" y1="499.85" x2="857.4" y2="499.85" stroke="#444" stroke-width="1.2"/>
<line x1="852.7" y1="494.18" x2="857.4" y2="494.18" stroke="#444" stroke-width="1.2"/>
<line x1="852.7" y1="489.54" x2="857.4" y2="489.54" stroke="#444" stroke-width="1.2"/>
<line x1="852.7" y1="485.62" x2="857.4" y2="485.62" stroke="#444" stroke-width="1.2"/>
<line x1="852.7" y1="482.22" x2="857.4" y2="482.22" stroke="#444" stroke-width="1.2"/>
<line x1="852.7" y1="479.23" x2="857.4" y2="479.23" stroke="#444" stroke-width="1.2"/>
<line x1="848.4" y1="476.55" x2="857.4" y2="476.55" stroke="#2a2a2a" stroke-width="1.4"/>
<line x1="852.7" y1="458.92" x2="857.4" y2="458.92" stroke="#444" stroke-width="1.2"/>
<line x1="852.7" y1="448.61" x2="857.4" y2="448.61" stroke="#444" stroke-width="1.2"/>
<line x1="852.7" y1="441.3" x2="857.4" y2="441.3" stroke="#444" stroke-width="1.2"/>
<line x1="852.7" y1="435.63" x2="857.4" y2="435.63" stroke="#444" stroke-width="1.2"/>
<line x1="852.7" y1="430.99" x2="857.4" y2="430.99" stroke="#444" stroke-width="1.2"/>
<line x1="852.7" y1="427.07" x2="857.4" y2="427.07" stroke="#444" stroke-width="1.2"/>
<line x1="852.7" y1="423.67" x2="857.4" y2="423.67" stroke="#444" stroke-width="1.2"/>
<line x1="852.7" y1="420.68" x2="857.4" y2="420.68" stroke="#444" stroke-width="1.2"/>
<line x1="848.4" y1="418" x2="857.4" y2="418" stroke="#2a2a2a" stroke-width="1.4"/>
<text x="836.3" y="778.6" font-size="24" text-anchor="end">1</text>
<text x="836.3" y="720.05" font-size="24" text-anchor="end">2</text>
<text x="836.3" y="661.5" font-size="24" text-anchor="end">3</text>
<text x="836.3" y="602.95" font-size="24" text-anchor="end">4</text>
<text x="836.3" y="544.4" font-size="24" text-anchor="end">5</text>
<text x="836.3" y="485.85" font-size="24" text-anchor="end">6</text>
<text x="836.3" y="427.3" font-size="24" text-anchor="end">7</text>
<line x1="848.4" y1="769.3" x2="1208.4" y2="769.3" stroke="#2a2a2a" stroke-width="1.5"/>
<line x1="857.4" y1="769.3" x2="857.4" y2="778.4" stroke="#2a2a2a" stroke-width="1.5"/>
<text x="857.4" y="809" font-size="24" text-anchor="middle">0</text>
<line x1="907.48" y1="769.3" x2="907.48" y2="778.4" stroke="#2a2a2a" stroke-width="1.5"/>
<text x="907.48" y="809" font-size="24" text-anchor="middle">2</text>
<line x1="957.56" y1="769.3" x2="957.56" y2="778.4" stroke="#2a2a2a" stroke-width="1.5"/>
<text x="957.56" y="809" font-size="24" text-anchor="middle">4</text>
<line x1="1007.64" y1="769.3" x2="1007.64" y2="778.4" stroke="#2a2a2a" stroke-width="1.5"/>
<text x="1007.64" y="809" font-size="24" text-anchor="middle">6</text>
<line x1="1057.72" y1="769.3" x2="1057.72" y2="778.4" stroke="#2a2a2a" stroke-width="1.5"/>
<text x="1057.72" y="809" font-size="24" text-anchor="middle">8</text>
<line x1="1107.8" y1="769.3" x2="1107.8" y2="778.4" stroke="#2a2a2a" stroke-width="1.5"/>
<text x="1107.8" y="809" font-size="24" text-anchor="middle">10</text>
<line x1="1157.88" y1="769.3" x2="1157.88" y2="778.4" stroke="#2a2a2a" stroke-width="1.5"/>
<text x="1157.88" y="809" font-size="24" text-anchor="middle">12</text>
<line x1="1207.96" y1="769.3" x2="1207.96" y2="778.4" stroke="#2a2a2a" stroke-width="1.5"/>
<text x="1207.96" y="809" font-size="24" text-anchor="middle">14</text>
<text x="949.96" y="854.3" font-size="27.5" textLength="166.68" lengthAdjust="spacingAndGlyphs">Time (weeks)</text>
<text x="795" y="594.2" font-size="27.5" text-anchor="middle" textLength="302" lengthAdjust="spacingAndGlyphs" transform="rotate(-90 795 594.2)">log anti-H1 HA IgG titers</text>
<line x1="857.4" y1="728.7" x2="1208.4" y2="728.7" stroke="#555" stroke-width="1.9" stroke-dasharray="14.3 4.45"/>
<line x1="857.4" y1="769" x2="857.4" y2="740.5" stroke="#000" stroke-width="2.1"/>
<path d="M857.4 734 L862.4 745.5 L857.4 742.5 L852.4 745.5 Z" fill="#000"/>
<line x1="1057.5" y1="769" x2="1057.5" y2="740.5" stroke="#000" stroke-width="2.1"/>
<path d="M1057.5 734 L1062.5 745.5 L1057.5 742.5 L1052.5 745.5 Z" fill="#000"/>
<line x1="907.48" y1="692.3" x2="907.48" y2="732.3" stroke="#333" stroke-width="1.5"/>
<line x1="898.48" y1="692.3" x2="916.48" y2="692.3" stroke="#333" stroke-width="1.5"/>
<line x1="898.48" y1="732.3" x2="916.48" y2="732.3" stroke="#333" stroke-width="1.5"/>
<line x1="957.56" y1="621.9" x2="957.56" y2="666.2" stroke="#333" stroke-width="1.5"/>
<line x1="948.56" y1="621.9" x2="966.56" y2="621.9" stroke="#333" stroke-width="1.5"/>
<line x1="948.56" y1="666.2" x2="966.56" y2="666.2" stroke="#333" stroke-width="1.5"/>
<line x1="1007.64" y1="601.7" x2="1007.64" y2="662.4" stroke="#333" stroke-width="1.5"/>
<line x1="998.64" y1="601.7" x2="1016.64" y2="601.7" stroke="#333" stroke-width="1.5"/>
<line x1="998.64" y1="662.4" x2="1016.64" y2="662.4" stroke="#333" stroke-width="1.5"/>
<line x1="1057.72" y1="574.5" x2="1057.72" y2="626.3" stroke="#333" stroke-width="1.5"/>
<line x1="1048.72" y1="574.5" x2="1066.72" y2="574.5" stroke="#333" stroke-width="1.5"/>
<line x1="1048.72" y1="626.3" x2="1066.72" y2="626.3" stroke="#333" stroke-width="1.5"/>
<line x1="1107.8" y1="566.5" x2="1107.8" y2="601.2" stroke="#333" stroke-width="1.5"/>
<line x1="1098.8" y1="566.5" x2="1116.8" y2="566.5" stroke="#333" stroke-width="1.5"/>
<line x1="1098.8" y1="601.2" x2="1116.8" y2="601.2" stroke="#333" stroke-width="1.5"/>
<line x1="1157.88" y1="553.9" x2="1157.88" y2="595" stroke="#333" stroke-width="1.5"/>
<line x1="1148.88" y1="553.9" x2="1166.88" y2="553.9" stroke="#333" stroke-width="1.5"/>
<line x1="1148.88" y1="595" x2="1166.88" y2="595" stroke="#333" stroke-width="1.5"/>
<line x1="1207.96" y1="555" x2="1207.96" y2="598.9" stroke="#333" stroke-width="1.5"/>
<line x1="1198.96" y1="555" x2="1216.96" y2="555" stroke="#333" stroke-width="1.5"/>
<line x1="1198.96" y1="598.9" x2="1216.96" y2="598.9" stroke="#333" stroke-width="1.5"/>
<line x1="907.48" y1="643.5" x2="907.48" y2="688" stroke="#111" stroke-width="1.5"/>
<line x1="898.48" y1="643.5" x2="916.48" y2="643.5" stroke="#111" stroke-width="1.5"/>
<line x1="898.48" y1="688" x2="916.48" y2="688" stroke="#111" stroke-width="1.5"/>
<line x1="957.56" y1="593.4" x2="957.56" y2="618.7" stroke="#111" stroke-width="1.5"/>
<line x1="948.56" y1="593.4" x2="966.56" y2="593.4" stroke="#111" stroke-width="1.5"/>
<line x1="948.56" y1="618.7" x2="966.56" y2="618.7" stroke="#111" stroke-width="1.5"/>
<line x1="1007.64" y1="539.1" x2="1007.64" y2="598.6" stroke="#111" stroke-width="1.5"/>
<line x1="998.64" y1="539.1" x2="1016.64" y2="539.1" stroke="#111" stroke-width="1.5"/>
<line x1="998.64" y1="598.6" x2="1016.64" y2="598.6" stroke="#111" stroke-width="1.5"/>
<line x1="1057.72" y1="519.2" x2="1057.72" y2="575.5" stroke="#111" stroke-width="1.5"/>
<line x1="1048.72" y1="519.2" x2="1066.72" y2="519.2" stroke="#111" stroke-width="1.5"/>
<line x1="1048.72" y1="575.5" x2="1066.72" y2="575.5" stroke="#111" stroke-width="1.5"/>
<line x1="1107.8" y1="518.7" x2="1107.8" y2="558.9" stroke="#111" stroke-width="1.5"/>
<line x1="1098.8" y1="518.7" x2="1116.8" y2="518.7" stroke="#111" stroke-width="1.5"/>
<line x1="1098.8" y1="558.9" x2="1116.8" y2="558.9" stroke="#111" stroke-width="1.5"/>
<line x1="1157.88" y1="519.5" x2="1157.88" y2="553.9" stroke="#111" stroke-width="1.5"/>
<line x1="1148.88" y1="519.5" x2="1166.88" y2="519.5" stroke="#111" stroke-width="1.5"/>
<line x1="1148.88" y1="553.9" x2="1166.88" y2="553.9" stroke="#111" stroke-width="1.5"/>
<line x1="1207.96" y1="518.7" x2="1207.96" y2="555" stroke="#111" stroke-width="1.5"/>
<line x1="1198.96" y1="518.7" x2="1216.96" y2="518.7" stroke="#111" stroke-width="1.5"/>
<line x1="1198.96" y1="555" x2="1216.96" y2="555" stroke="#111" stroke-width="1.5"/>
<polyline points="857.4,728.7 907.48,712.2 957.56,642.5 1007.64,631.9 1057.72,600.4 1107.8,583.7 1157.88,574 1207.96,577.1" fill="none" stroke="#222" stroke-width="1.3"/>
<polyline points="857.4,728.7 907.48,665.7 957.56,607.8 1007.64,568.3 1057.72,547.7 1107.8,538.7 1157.88,536.7 1207.96,536.7" fill="none" stroke="#111" stroke-width="1.3"/>
<circle cx="907.48" cy="712.2" r="8.7" fill="#d3d3d3" stroke="#000" stroke-width="1.1"/>
<circle cx="957.56" cy="642.5" r="8.7" fill="#d3d3d3" stroke="#000" stroke-width="1.1"/>
<circle cx="1007.64" cy="631.9" r="8.7" fill="#d3d3d3" stroke="#000" stroke-width="1.1"/>
<circle cx="1057.72" cy="600.4" r="8.7" fill="#d3d3d3" stroke="#000" stroke-width="1.1"/>
<circle cx="1107.8" cy="583.7" r="8.7" fill="#d3d3d3" stroke="#000" stroke-width="1.1"/>
<circle cx="1157.88" cy="574" r="8.7" fill="#d3d3d3" stroke="#000" stroke-width="1.1"/>
<circle cx="1207.96" cy="577.1" r="8.7" fill="#d3d3d3" stroke="#000" stroke-width="1.1"/>
<circle cx="907.48" cy="665.7" r="8.7" fill="#fd7e79" stroke="#000" stroke-width="1.1"/>
<circle cx="957.56" cy="607.8" r="8.7" fill="#fd7e79" stroke="#000" stroke-width="1.1"/>
<circle cx="1007.64" cy="568.3" r="8.7" fill="#fd7e79" stroke="#000" stroke-width="1.1"/>
<circle cx="1057.72" cy="547.7" r="8.7" fill="#fd7e79" stroke="#000" stroke-width="1.1"/>
<circle cx="1107.8" cy="538.7" r="8.7" fill="#fd7e79" stroke="#000" stroke-width="1.1"/>
<circle cx="1157.88" cy="536.7" r="8.7" fill="#fd7e79" stroke="#000" stroke-width="1.1"/>
<circle cx="1207.96" cy="536.7" r="8.7" fill="#fd7e79" stroke="#000" stroke-width="1.1"/>
<circle cx="857.4" cy="728.7" r="8.7" fill="#d3d3d3" stroke="#000" stroke-width="1.1"/>
<line x1="873.3" y1="409.9" x2="911.3" y2="409.9" stroke="#555" stroke-width="1.6"/>
<circle cx="892.3" cy="409.9" r="9" fill="#d3d3d3" stroke="#000" stroke-width="1.1"/>
<line x1="873.3" y1="447.4" x2="911.3" y2="447.4" stroke="#111" stroke-width="1.6"/>
<circle cx="892.3" cy="447.4" r="9" fill="#fd7e79" stroke="#000" stroke-width="1.1"/>
<text x="922.36" y="421" font-size="27.5" textLength="75.17" lengthAdjust="spacingAndGlyphs">H1 HA</text>
<text x="922.36" y="458" font-size="27.5" textLength="129.37" lengthAdjust="spacingAndGlyphs">H1 HA-12D</text>
<text x="1006.1" y="512.4" font-size="19" textLength="93.5" lengthAdjust="spacingAndGlyphs"><tspan font-style="italic">P</tspan> &lt; 0.0001</text>
<text x="1056.2" y="484.3" font-size="19" textLength="93.5" lengthAdjust="spacingAndGlyphs"><tspan font-style="italic">P</tspan> &lt; 0.0001</text>
<text x="1113.3" y="507.7" font-size="19" textLength="93.5" lengthAdjust="spacingAndGlyphs"><tspan font-style="italic">P</tspan> &lt; 0.0001</text>
<text x="1163" y="484.3" font-size="19" textLength="94.2" lengthAdjust="spacingAndGlyphs"><tspan font-style="italic">P</tspan> &lt; 0.0001</text>
<line x1="1316.4" y1="768.4" x2="1316.4" y2="416.8" stroke="#2a2a2a" stroke-width="1.4"/>
<line x1="1307.4" y1="768.4" x2="1316.4" y2="768.4" stroke="#2a2a2a" stroke-width="1.4"/>
<line x1="1311.7" y1="750.76" x2="1316.4" y2="750.76" stroke="#444" stroke-width="1.2"/>
<line x1="1311.7" y1="740.44" x2="1316.4" y2="740.44" stroke="#444" stroke-width="1.2"/>
<line x1="1311.7" y1="733.12" x2="1316.4" y2="733.12" stroke="#444" stroke-width="1.2"/>
<line x1="1311.7" y1="727.44" x2="1316.4" y2="727.44" stroke="#444" stroke-width="1.2"/>
<line x1="1311.7" y1="722.8" x2="1316.4" y2="722.8" stroke="#444" stroke-width="1.2"/>
<line x1="1311.7" y1="718.88" x2="1316.4" y2="718.88" stroke="#444" stroke-width="1.2"/>
<line x1="1311.7" y1="715.48" x2="1316.4" y2="715.48" stroke="#444" stroke-width="1.2"/>
<line x1="1311.7" y1="712.48" x2="1316.4" y2="712.48" stroke="#444" stroke-width="1.2"/>
<line x1="1307.4" y1="709.8" x2="1316.4" y2="709.8" stroke="#2a2a2a" stroke-width="1.4"/>
<line x1="1311.7" y1="692.16" x2="1316.4" y2="692.16" stroke="#444" stroke-width="1.2"/>
<line x1="1311.7" y1="681.84" x2="1316.4" y2="681.84" stroke="#444" stroke-width="1.2"/>
<line x1="1311.7" y1="674.52" x2="1316.4" y2="674.52" stroke="#444" stroke-width="1.2"/>
<line x1="1311.7" y1="668.84" x2="1316.4" y2="668.84" stroke="#444" stroke-width="1.2"/>
<line x1="1311.7" y1="664.2" x2="1316.4" y2="664.2" stroke="#444" stroke-width="1.2"/>
<line x1="1311.7" y1="660.28" x2="1316.4" y2="660.28" stroke="#444" stroke-width="1.2"/>
<line x1="1311.7" y1="656.88" x2="1316.4" y2="656.88" stroke="#444" stroke-width="1.2"/>
<line x1="1311.7" y1="653.88" x2="1316.4" y2="653.88" stroke="#444" stroke-width="1.2"/>
<line x1="1307.4" y1="651.2" x2="1316.4" y2="651.2" stroke="#2a2a2a" stroke-width="1.4"/>
<line x1="1311.7" y1="633.56" x2="1316.4" y2="633.56" stroke="#444" stroke-width="1.2"/>
<line x1="1311.7" y1="623.24" x2="1316.4" y2="623.24" stroke="#444" stroke-width="1.2"/>
<line x1="1311.7" y1="615.92" x2="1316.4" y2="615.92" stroke="#444" stroke-width="1.2"/>
<line x1="1311.7" y1="610.24" x2="1316.4" y2="610.24" stroke="#444" stroke-width="1.2"/>
<line x1="1311.7" y1="605.6" x2="1316.4" y2="605.6" stroke="#444" stroke-width="1.2"/>
<line x1="1311.7" y1="601.68" x2="1316.4" y2="601.68" stroke="#444" stroke-width="1.2"/>
<line x1="1311.7" y1="598.28" x2="1316.4" y2="598.28" stroke="#444" stroke-width="1.2"/>
<line x1="1311.7" y1="595.28" x2="1316.4" y2="595.28" stroke="#444" stroke-width="1.2"/>
<line x1="1307.4" y1="592.6" x2="1316.4" y2="592.6" stroke="#2a2a2a" stroke-width="1.4"/>
<line x1="1311.7" y1="574.96" x2="1316.4" y2="574.96" stroke="#444" stroke-width="1.2"/>
<line x1="1311.7" y1="564.64" x2="1316.4" y2="564.64" stroke="#444" stroke-width="1.2"/>
<line x1="1311.7" y1="557.32" x2="1316.4" y2="557.32" stroke="#444" stroke-width="1.2"/>
<line x1="1311.7" y1="551.64" x2="1316.4" y2="551.64" stroke="#444" stroke-width="1.2"/>
<line x1="1311.7" y1="547" x2="1316.4" y2="547" stroke="#444" stroke-width="1.2"/>
<line x1="1311.7" y1="543.08" x2="1316.4" y2="543.08" stroke="#444" stroke-width="1.2"/>
<line x1="1311.7" y1="539.68" x2="1316.4" y2="539.68" stroke="#444" stroke-width="1.2"/>
<line x1="1311.7" y1="536.68" x2="1316.4" y2="536.68" stroke="#444" stroke-width="1.2"/>
<line x1="1307.4" y1="534" x2="1316.4" y2="534" stroke="#2a2a2a" stroke-width="1.4"/>
<line x1="1311.7" y1="516.36" x2="1316.4" y2="516.36" stroke="#444" stroke-width="1.2"/>
<line x1="1311.7" y1="506.04" x2="1316.4" y2="506.04" stroke="#444" stroke-width="1.2"/>
<line x1="1311.7" y1="498.72" x2="1316.4" y2="498.72" stroke="#444" stroke-width="1.2"/>
<line x1="1311.7" y1="493.04" x2="1316.4" y2="493.04" stroke="#444" stroke-width="1.2"/>
<line x1="1311.7" y1="488.4" x2="1316.4" y2="488.4" stroke="#444" stroke-width="1.2"/>
<line x1="1311.7" y1="484.48" x2="1316.4" y2="484.48" stroke="#444" stroke-width="1.2"/>
<line x1="1311.7" y1="481.08" x2="1316.4" y2="481.08" stroke="#444" stroke-width="1.2"/>
<line x1="1311.7" y1="478.08" x2="1316.4" y2="478.08" stroke="#444" stroke-width="1.2"/>
<line x1="1307.4" y1="475.4" x2="1316.4" y2="475.4" stroke="#2a2a2a" stroke-width="1.4"/>
<line x1="1311.7" y1="457.76" x2="1316.4" y2="457.76" stroke="#444" stroke-width="1.2"/>
<line x1="1311.7" y1="447.44" x2="1316.4" y2="447.44" stroke="#444" stroke-width="1.2"/>
<line x1="1311.7" y1="440.12" x2="1316.4" y2="440.12" stroke="#444" stroke-width="1.2"/>
<line x1="1311.7" y1="434.44" x2="1316.4" y2="434.44" stroke="#444" stroke-width="1.2"/>
<line x1="1311.7" y1="429.8" x2="1316.4" y2="429.8" stroke="#444" stroke-width="1.2"/>
<line x1="1311.7" y1="425.88" x2="1316.4" y2="425.88" stroke="#444" stroke-width="1.2"/>
<line x1="1311.7" y1="422.48" x2="1316.4" y2="422.48" stroke="#444" stroke-width="1.2"/>
<line x1="1311.7" y1="419.48" x2="1316.4" y2="419.48" stroke="#444" stroke-width="1.2"/>
<line x1="1307.4" y1="416.8" x2="1316.4" y2="416.8" stroke="#2a2a2a" stroke-width="1.4"/>
<text x="1295.3" y="777.7" font-size="24" text-anchor="end">1</text>
<text x="1295.3" y="719.1" font-size="24" text-anchor="end">2</text>
<text x="1295.3" y="660.5" font-size="24" text-anchor="end">3</text>
<text x="1295.3" y="601.9" font-size="24" text-anchor="end">4</text>
<text x="1295.3" y="543.3" font-size="24" text-anchor="end">5</text>
<text x="1295.3" y="484.7" font-size="24" text-anchor="end">6</text>
<text x="1295.3" y="426.1" font-size="24" text-anchor="end">7</text>
<line x1="1307.6" y1="768.4" x2="1580.3" y2="768.4" stroke="#2a2a2a" stroke-width="1.5"/>
<line x1="1378" y1="768.4" x2="1378" y2="777.5" stroke="#2a2a2a" stroke-width="1.5"/>
<line x1="1519.4" y1="768.4" x2="1519.4" y2="777.5" stroke="#2a2a2a" stroke-width="1.5"/>
<text x="1378" y="811" font-size="27.5" text-anchor="middle" textLength="93" lengthAdjust="spacingAndGlyphs">Week 8</text>
<text x="1519.4" y="811" font-size="27.5" text-anchor="middle" textLength="106" lengthAdjust="spacingAndGlyphs">Week 14</text>
<line x1="1316.4" y1="727.4" x2="1580.3" y2="727.4" stroke="#555" stroke-width="1.9" stroke-dasharray="14.3 4.45"/>
<circle cx="1348.6" cy="401.1" r="9" fill="#d3d3d3" stroke="#000" stroke-width="1.1"/>
<circle cx="1348.6" cy="438.7" r="9" fill="#fd7e79" stroke="#000" stroke-width="1.1"/>
<text x="1368.56" y="411" font-size="27.5" textLength="74.47" lengthAdjust="spacingAndGlyphs">H1 HA</text>
<text x="1368.56" y="448.3" font-size="27.5" textLength="128.58" lengthAdjust="spacingAndGlyphs">H1 HA-12D</text>
<text x="1331.9" y="494.6" font-size="19" textLength="96.4" lengthAdjust="spacingAndGlyphs"><tspan font-style="italic">P</tspan> = 0.0005</text>
<line x1="1352.5" y1="501" x2="1404.8" y2="501" stroke="#777" stroke-width="1.6"/>
<text x="1473.2" y="487.5" font-size="19" textLength="91.2" lengthAdjust="spacingAndGlyphs"><tspan font-style="italic">P</tspan> = 0.0015</text>
<line x1="1491.9" y1="494" x2="1543.8" y2="494" stroke="#777" stroke-width="1.6"/>
<line x1="1351.9" y1="599.4" x2="1351.9" y2="620" stroke="#777" stroke-width="1.4"/>
<line x1="1407.6" y1="546.1" x2="1407.6" y2="567" stroke="#777" stroke-width="1.4"/>
<line x1="1399" y1="567.5" x2="1413" y2="567.5" stroke="#555" stroke-width="1.2"/>
<line x1="1330.1" y1="599.4" x2="1373.7" y2="599.4" stroke="#000" stroke-width="4.2"/>
<line x1="1383" y1="546.1" x2="1426.8" y2="546.1" stroke="#000" stroke-width="4.2"/>
<line x1="1470.4" y1="575.9" x2="1514.7" y2="575.9" stroke="#000" stroke-width="4.2"/>
<line x1="1523.3" y1="535.3" x2="1567.5" y2="535.3" stroke="#000" stroke-width="4.2"/>
<circle cx="1349.3" cy="567" r="8.5" fill="#d3d3d3" stroke="#000" stroke-width="1.1"/>
<circle cx="1355.1" cy="564.4" r="8.5" fill="#d3d3d3" stroke="#000" stroke-width="1.1"/>
<circle cx="1349.3" cy="587.5" r="8.5" fill="#d3d3d3" stroke="#000" stroke-width="1.1"/>
<circle cx="1361.2" cy="588.1" r="8.5" fill="#d3d3d3" stroke="#000" stroke-width="1.1"/>
<circle cx="1355.1" cy="584.9" r="8.5" fill="#d3d3d3" stroke="#000" stroke-width="1.1"/>
<circle cx="1343.3" cy="596" r="8.5" fill="#d3d3d3" stroke="#000" stroke-width="1.1"/>
<circle cx="1343.3" cy="615.6" r="8.5" fill="#d3d3d3" stroke="#000" stroke-width="1.1"/>
<circle cx="1361.2" cy="626.5" r="8.5" fill="#d3d3d3" stroke="#000" stroke-width="1.1"/>
<circle cx="1355.1" cy="630.4" r="8.5" fill="#d3d3d3" stroke="#000" stroke-width="1.1"/>
<circle cx="1343.3" cy="634.2" r="8.5" fill="#d3d3d3" stroke="#000" stroke-width="1.1"/>
<circle cx="1407.6" cy="516.4" r="8.5" fill="#fd7e79" stroke="#000" stroke-width="1.1"/>
<circle cx="1414" cy="530.5" r="8.5" fill="#fd7e79" stroke="#000" stroke-width="1.1"/>
<circle cx="1395.4" cy="535.6" r="8.5" fill="#fd7e79" stroke="#000" stroke-width="1.1"/>
<circle cx="1401.8" cy="527.9" r="8.5" fill="#fd7e79" stroke="#000" stroke-width="1.1"/>
<circle cx="1407.6" cy="538.1" r="8.5" fill="#fd7e79" stroke="#000" stroke-width="1.1"/>
<circle cx="1407.6" cy="545.8" r="8.5" fill="#fd7e79" stroke="#000" stroke-width="1.1"/>
<circle cx="1401.8" cy="556.7" r="8.5" fill="#fd7e79" stroke="#000" stroke-width="1.1"/>
<circle cx="1404.7" cy="567" r="8.5" fill="#fd7e79" stroke="#000" stroke-width="1.1"/>
<circle cx="1404.7" cy="614.4" r="8.5" fill="#fd7e79" stroke="#000" stroke-width="1.1"/>
<circle cx="1401.8" cy="527.9" r="8.5" fill="#fd7e79" stroke="#000" stroke-width="1.1"/>
<circle cx="1492.5" cy="531.4" r="8.5" fill="#d3d3d3" stroke="#000" stroke-width="1.1"/>
<circle cx="1499.6" cy="563.8" r="8.5" fill="#d3d3d3" stroke="#000" stroke-width="1.1"/>
<circle cx="1489.3" cy="557.4" r="8.5" fill="#d3d3d3" stroke="#000" stroke-width="1.1"/>
<circle cx="1499.2" cy="574" r="8.5" fill="#d3d3d3" stroke="#000" stroke-width="1.1"/>
<circle cx="1492.5" cy="569.5" r="8.5" fill="#d3d3d3" stroke="#000" stroke-width="1.1"/>
<circle cx="1486.1" cy="575.3" r="8.5" fill="#d3d3d3" stroke="#000" stroke-width="1.1"/>
<circle cx="1495.7" cy="599" r="8.5" fill="#d3d3d3" stroke="#000" stroke-width="1.1"/>
<circle cx="1489.3" cy="590.7" r="8.5" fill="#d3d3d3" stroke="#000" stroke-width="1.1"/>
<circle cx="1501.5" cy="597.1" r="8.5" fill="#d3d3d3" stroke="#000" stroke-width="1.1"/>
<circle cx="1483.6" cy="601.6" r="8.5" fill="#d3d3d3" stroke="#000" stroke-width="1.1"/>
<circle cx="1550.2" cy="519.6" r="8.5" fill="#fd7e79" stroke="#000" stroke-width="1.1"/>
<circle cx="1541.2" cy="526.6" r="8.5" fill="#fd7e79" stroke="#000" stroke-width="1.1"/>
<circle cx="1545" cy="523.4" r="8.5" fill="#fd7e79" stroke="#000" stroke-width="1.1"/>
<circle cx="1549.5" cy="527.3" r="8.5" fill="#fd7e79" stroke="#000" stroke-width="1.1"/>
<circle cx="1541.2" cy="512.5" r="8.5" fill="#fd7e79" stroke="#000" stroke-width="1.1"/>
<circle cx="1534.8" cy="536.9" r="8.5" fill="#fd7e79" stroke="#000" stroke-width="1.1"/>
<circle cx="1545" cy="536.2" r="8.5" fill="#fd7e79" stroke="#000" stroke-width="1.1"/>
<circle cx="1554" cy="537.5" r="8.5" fill="#fd7e79" stroke="#000" stroke-width="1.1"/>
<circle cx="1545" cy="551" r="8.5" fill="#fd7e79" stroke="#000" stroke-width="1.1"/>
<circle cx="1545" cy="577.2" r="8.5" fill="#fd7e79" stroke="#000" stroke-width="1.1"/>
<text x="-1.5" y="920.2" font-size="41" textLength="25.6" lengthAdjust="spacingAndGlyphs" font-weight="bold">e</text>
<line x1="165" y1="1273.02" x2="165" y2="921.2" stroke="#2a2a2a" stroke-width="1.4"/>
<line x1="160.3" y1="1273.02" x2="165" y2="1273.02" stroke="#444" stroke-width="1.2"/>
<line x1="160.3" y1="1266.55" x2="165" y2="1266.55" stroke="#444" stroke-width="1.2"/>
<line x1="160.3" y1="1261.07" x2="165" y2="1261.07" stroke="#444" stroke-width="1.2"/>
<line x1="160.3" y1="1256.33" x2="165" y2="1256.33" stroke="#444" stroke-width="1.2"/>
<line x1="160.3" y1="1252.14" x2="165" y2="1252.14" stroke="#444" stroke-width="1.2"/>
<line x1="156" y1="1248.4" x2="165" y2="1248.4" stroke="#2a2a2a" stroke-width="1.4"/>
<line x1="160.3" y1="1223.78" x2="165" y2="1223.78" stroke="#444" stroke-width="1.2"/>
<line x1="160.3" y1="1209.37" x2="165" y2="1209.37" stroke="#444" stroke-width="1.2"/>
<line x1="160.3" y1="1199.15" x2="165" y2="1199.15" stroke="#444" stroke-width="1.2"/>
<line x1="160.3" y1="1191.22" x2="165" y2="1191.22" stroke="#444" stroke-width="1.2"/>
<line x1="160.3" y1="1184.75" x2="165" y2="1184.75" stroke="#444" stroke-width="1.2"/>
<line x1="160.3" y1="1179.27" x2="165" y2="1179.27" stroke="#444" stroke-width="1.2"/>
<line x1="160.3" y1="1174.53" x2="165" y2="1174.53" stroke="#444" stroke-width="1.2"/>
<line x1="160.3" y1="1170.34" x2="165" y2="1170.34" stroke="#444" stroke-width="1.2"/>
<line x1="156" y1="1166.6" x2="165" y2="1166.6" stroke="#2a2a2a" stroke-width="1.4"/>
<line x1="160.3" y1="1141.98" x2="165" y2="1141.98" stroke="#444" stroke-width="1.2"/>
<line x1="160.3" y1="1127.57" x2="165" y2="1127.57" stroke="#444" stroke-width="1.2"/>
<line x1="160.3" y1="1117.35" x2="165" y2="1117.35" stroke="#444" stroke-width="1.2"/>
<line x1="160.3" y1="1109.42" x2="165" y2="1109.42" stroke="#444" stroke-width="1.2"/>
<line x1="160.3" y1="1102.95" x2="165" y2="1102.95" stroke="#444" stroke-width="1.2"/>
<line x1="160.3" y1="1097.47" x2="165" y2="1097.47" stroke="#444" stroke-width="1.2"/>
<line x1="160.3" y1="1092.73" x2="165" y2="1092.73" stroke="#444" stroke-width="1.2"/>
<line x1="160.3" y1="1088.54" x2="165" y2="1088.54" stroke="#444" stroke-width="1.2"/>
<line x1="156" y1="1084.8" x2="165" y2="1084.8" stroke="#2a2a2a" stroke-width="1.4"/>
<line x1="160.3" y1="1060.18" x2="165" y2="1060.18" stroke="#444" stroke-width="1.2"/>
<line x1="160.3" y1="1045.77" x2="165" y2="1045.77" stroke="#444" stroke-width="1.2"/>
<line x1="160.3" y1="1035.55" x2="165" y2="1035.55" stroke="#444" stroke-width="1.2"/>
<line x1="160.3" y1="1027.62" x2="165" y2="1027.62" stroke="#444" stroke-width="1.2"/>
<line x1="160.3" y1="1021.15" x2="165" y2="1021.15" stroke="#444" stroke-width="1.2"/>
<line x1="160.3" y1="1015.67" x2="165" y2="1015.67" stroke="#444" stroke-width="1.2"/>
<line x1="160.3" y1="1010.93" x2="165" y2="1010.93" stroke="#444" stroke-width="1.2"/>
<line x1="160.3" y1="1006.74" x2="165" y2="1006.74" stroke="#444" stroke-width="1.2"/>
<line x1="156" y1="1003" x2="165" y2="1003" stroke="#2a2a2a" stroke-width="1.4"/>
<line x1="160.3" y1="978.38" x2="165" y2="978.38" stroke="#444" stroke-width="1.2"/>
<line x1="160.3" y1="963.97" x2="165" y2="963.97" stroke="#444" stroke-width="1.2"/>
<line x1="160.3" y1="953.75" x2="165" y2="953.75" stroke="#444" stroke-width="1.2"/>
<line x1="160.3" y1="945.82" x2="165" y2="945.82" stroke="#444" stroke-width="1.2"/>
<line x1="160.3" y1="939.35" x2="165" y2="939.35" stroke="#444" stroke-width="1.2"/>
<line x1="160.3" y1="933.87" x2="165" y2="933.87" stroke="#444" stroke-width="1.2"/>
<line x1="160.3" y1="929.13" x2="165" y2="929.13" stroke="#444" stroke-width="1.2"/>
<line x1="160.3" y1="924.94" x2="165" y2="924.94" stroke="#444" stroke-width="1.2"/>
<line x1="156" y1="921.2" x2="165" y2="921.2" stroke="#2a2a2a" stroke-width="1.4"/>
<text x="144.2" y="1257.7" font-size="24" text-anchor="end">2</text>
<text x="144.2" y="1175.9" font-size="24" text-anchor="end">3</text>
<text x="144.2" y="1094.1" font-size="24" text-anchor="end">4</text>
<text x="144.2" y="1012.3" font-size="24" text-anchor="end">5</text>
<text x="144.2" y="930.5" font-size="24" text-anchor="end">6</text>
<line x1="160.6" y1="1273.1" x2="516.1" y2="1273.1" stroke="#2a2a2a" stroke-width="1.5"/>
<line x1="165" y1="1273.1" x2="165" y2="1281.6" stroke="#2a2a2a" stroke-width="1.5"/>
<text x="165" y="1312.6" font-size="24" text-anchor="middle">0</text>
<line x1="252.76" y1="1273.1" x2="252.76" y2="1281.6" stroke="#2a2a2a" stroke-width="1.5"/>
<text x="252.76" y="1312.6" font-size="24" text-anchor="middle">4</text>
<line x1="340.52" y1="1273.1" x2="340.52" y2="1281.6" stroke="#2a2a2a" stroke-width="1.5"/>
<text x="340.52" y="1312.6" font-size="24" text-anchor="middle">8</text>
<line x1="428.28" y1="1273.1" x2="428.28" y2="1281.6" stroke="#2a2a2a" stroke-width="1.5"/>
<text x="428.28" y="1312.6" font-size="24" text-anchor="middle">12</text>
<line x1="516.04" y1="1273.1" x2="516.04" y2="1281.6" stroke="#2a2a2a" stroke-width="1.5"/>
<text x="516.04" y="1312.6" font-size="24" text-anchor="middle">16</text>
<text x="257.66" y="1358.2" font-size="27.5" textLength="166.58" lengthAdjust="spacingAndGlyphs">Time (weeks)</text>
<text x="67.4" y="1096.7" font-size="28" text-anchor="middle" transform="rotate(-90 67.4 1096.7)" textLength="302" lengthAdjust="spacingAndGlyphs">NT<tspan font-size="19" dy="5">50</tspan><tspan dy="-5"> | H1N1 A/NC/20/99</tspan></text>
<text x="103.7" y="1096.7" font-size="28" text-anchor="middle" textLength="246.6" lengthAdjust="spacingAndGlyphs" transform="rotate(-90 103.7 1096.7)">(log serum-dilution)</text>
<line x1="165" y1="1233.5" x2="516.1" y2="1233.5" stroke="#555" stroke-width="1.9" stroke-dasharray="14.3 4.45"/>
<line x1="165" y1="1273" x2="165" y2="1246.9" stroke="#000" stroke-width="2.1"/>
<path d="M165 1240.4 L170 1251.9 L165 1248.9 L160 1251.9 Z" fill="#000"/>
<line x1="340.5" y1="1273" x2="340.5" y2="1246.9" stroke="#000" stroke-width="2.1"/>
<path d="M340.5 1240.4 L345.5 1251.9 L340.5 1248.9 L335.5 1251.9 Z" fill="#000"/>
<line x1="252.76" y1="1205.8" x2="252.76" y2="1242.2" stroke="#333" stroke-width="1.5"/>
<line x1="243.76" y1="1205.8" x2="261.76" y2="1205.8" stroke="#333" stroke-width="1.5"/>
<line x1="243.76" y1="1242.2" x2="261.76" y2="1242.2" stroke="#333" stroke-width="1.5"/>
<line x1="340.52" y1="1181.9" x2="340.52" y2="1243" stroke="#333" stroke-width="1.5"/>
<line x1="331.52" y1="1181.9" x2="349.52" y2="1181.9" stroke="#333" stroke-width="1.5"/>
<line x1="331.52" y1="1243" x2="349.52" y2="1243" stroke="#333" stroke-width="1.5"/>
<line x1="472.16" y1="1153.9" x2="472.16" y2="1220.8" stroke="#333" stroke-width="1.5"/>
<line x1="463.16" y1="1153.9" x2="481.16" y2="1153.9" stroke="#333" stroke-width="1.5"/>
<line x1="463.16" y1="1220.8" x2="481.16" y2="1220.8" stroke="#333" stroke-width="1.5"/>
<line x1="340.52" y1="1104.9" x2="340.52" y2="1179.6" stroke="#111" stroke-width="1.5"/>
<line x1="331.52" y1="1104.9" x2="349.52" y2="1104.9" stroke="#111" stroke-width="1.5"/>
<line x1="331.52" y1="1179.6" x2="349.52" y2="1179.6" stroke="#111" stroke-width="1.5"/>
<line x1="472.16" y1="1087.3" x2="472.16" y2="1146.6" stroke="#111" stroke-width="1.5"/>
<line x1="463.16" y1="1087.3" x2="481.16" y2="1087.3" stroke="#111" stroke-width="1.5"/>
<line x1="463.16" y1="1146.6" x2="481.16" y2="1146.6" stroke="#111" stroke-width="1.5"/>
<polyline points="165,1233.5 252.76,1224.9 340.52,1142.9 472.16,1120.8" fill="none" stroke="#111" stroke-width="1.25"/>
<polyline points="165,1233.5 252.76,1218.8 340.52,1210.2 472.16,1183.8" fill="none" stroke="#222" stroke-width="1.25"/>
<circle cx="252.76" cy="1224.9" r="8.7" fill="#fd7e79" stroke="#000" stroke-width="1.1"/>
<circle cx="340.52" cy="1142.9" r="8.7" fill="#fd7e79" stroke="#000" stroke-width="1.1"/>
<circle cx="472.16" cy="1120.8" r="8.7" fill="#fd7e79" stroke="#000" stroke-width="1.1"/>
<circle cx="165" cy="1233.5" r="8.7" fill="#d3d3d3" stroke="#000" stroke-width="1.1"/>
<circle cx="252.76" cy="1218.8" r="8.7" fill="#d3d3d3" stroke="#000" stroke-width="1.1"/>
<circle cx="340.52" cy="1210.2" r="8.7" fill="#d3d3d3" stroke="#000" stroke-width="1.1"/>
<circle cx="472.16" cy="1183.8" r="8.7" fill="#d3d3d3" stroke="#000" stroke-width="1.1"/>
<circle cx="340.52" cy="1142.9" r="8.7" fill="#fd7e79" stroke="#000" stroke-width="1.1"/>
<circle cx="472.16" cy="1120.8" r="8.7" fill="#fd7e79" stroke="#000" stroke-width="1.1"/>
<line x1="192.4" y1="926.6" x2="230.6" y2="926.6" stroke="#555" stroke-width="1.6"/>
<circle cx="211.4" cy="926.6" r="8.8" fill="#d3d3d3" stroke="#000" stroke-width="1.1"/>
<line x1="192.4" y1="964.4" x2="230.6" y2="964.4" stroke="#111" stroke-width="1.6"/>
<circle cx="211.4" cy="964.4" r="8.8" fill="#fd7e79" stroke="#000" stroke-width="1.1"/>
<text x="242.26" y="936.4" font-size="27.5" textLength="74.97" lengthAdjust="spacingAndGlyphs">H1 HA</text>
<text x="242.26" y="974.2" font-size="27.5" textLength="128.97" lengthAdjust="spacingAndGlyphs">H1 HA-12D</text>
<text x="294.7" y="1096.3" font-size="19" textLength="91.1" lengthAdjust="spacingAndGlyphs"><tspan font-style="italic">P</tspan> = 0.0201</text>
<text x="426.2" y="1078.7" font-size="19" textLength="90.6" lengthAdjust="spacingAndGlyphs"><tspan font-style="italic">P</tspan> = 0.0219</text>
<line x1="589.8" y1="1273.02" x2="589.8" y2="921.2" stroke="#2a2a2a" stroke-width="1.4"/>
<line x1="585.1" y1="1273.02" x2="589.8" y2="1273.02" stroke="#444" stroke-width="1.2"/>
<line x1="585.1" y1="1266.55" x2="589.8" y2="1266.55" stroke="#444" stroke-width="1.2"/>
<line x1="585.1" y1="1261.07" x2="589.8" y2="1261.07" stroke="#444" stroke-width="1.2"/>
<line x1="585.1" y1="1256.33" x2="589.8" y2="1256.33" stroke="#444" stroke-width="1.2"/>
<line x1="585.1" y1="1252.14" x2="589.8" y2="1252.14" stroke="#444" stroke-width="1.2"/>
<line x1="580.8" y1="1248.4" x2="589.8" y2="1248.4" stroke="#2a2a2a" stroke-width="1.4"/>
<line x1="585.1" y1="1223.78" x2="589.8" y2="1223.78" stroke="#444" stroke-width="1.2"/>
<line x1="585.1" y1="1209.37" x2="589.8" y2="1209.37" stroke="#444" stroke-width="1.2"/>
<line x1="585.1" y1="1199.15" x2="589.8" y2="1199.15" stroke="#444" stroke-width="1.2"/>
<line x1="585.1" y1="1191.22" x2="589.8" y2="1191.22" stroke="#444" stroke-width="1.2"/>
<line x1="585.1" y1="1184.75" x2="589.8" y2="1184.75" stroke="#444" stroke-width="1.2"/>
<line x1="585.1" y1="1179.27" x2="589.8" y2="1179.27" stroke="#444" stroke-width="1.2"/>
<line x1="585.1" y1="1174.53" x2="589.8" y2="1174.53" stroke="#444" stroke-width="1.2"/>
<line x1="585.1" y1="1170.34" x2="589.8" y2="1170.34" stroke="#444" stroke-width="1.2"/>
<line x1="580.8" y1="1166.6" x2="589.8" y2="1166.6" stroke="#2a2a2a" stroke-width="1.4"/>
<line x1="585.1" y1="1141.98" x2="589.8" y2="1141.98" stroke="#444" stroke-width="1.2"/>
<line x1="585.1" y1="1127.57" x2="589.8" y2="1127.57" stroke="#444" stroke-width="1.2"/>
<line x1="585.1" y1="1117.35" x2="589.8" y2="1117.35" stroke="#444" stroke-width="1.2"/>
<line x1="585.1" y1="1109.42" x2="589.8" y2="1109.42" stroke="#444" stroke-width="1.2"/>
<line x1="585.1" y1="1102.95" x2="589.8" y2="1102.95" stroke="#444" stroke-width="1.2"/>
<line x1="585.1" y1="1097.47" x2="589.8" y2="1097.47" stroke="#444" stroke-width="1.2"/>
<line x1="585.1" y1="1092.73" x2="589.8" y2="1092.73" stroke="#444" stroke-width="1.2"/>
<line x1="585.1" y1="1088.54" x2="589.8" y2="1088.54" stroke="#444" stroke-width="1.2"/>
<line x1="580.8" y1="1084.8" x2="589.8" y2="1084.8" stroke="#2a2a2a" stroke-width="1.4"/>
<line x1="585.1" y1="1060.18" x2="589.8" y2="1060.18" stroke="#444" stroke-width="1.2"/>
<line x1="585.1" y1="1045.77" x2="589.8" y2="1045.77" stroke="#444" stroke-width="1.2"/>
<line x1="585.1" y1="1035.55" x2="589.8" y2="1035.55" stroke="#444" stroke-width="1.2"/>
<line x1="585.1" y1="1027.62" x2="589.8" y2="1027.62" stroke="#444" stroke-width="1.2"/>
<line x1="585.1" y1="1021.15" x2="589.8" y2="1021.15" stroke="#444" stroke-width="1.2"/>
<line x1="585.1" y1="1015.67" x2="589.8" y2="1015.67" stroke="#444" stroke-width="1.2"/>
<line x1="585.1" y1="1010.93" x2="589.8" y2="1010.93" stroke="#444" stroke-width="1.2"/>
<line x1="585.1" y1="1006.74" x2="589.8" y2="1006.74" stroke="#444" stroke-width="1.2"/>
<line x1="580.8" y1="1003" x2="589.8" y2="1003" stroke="#2a2a2a" stroke-width="1.4"/>
<line x1="585.1" y1="978.38" x2="589.8" y2="978.38" stroke="#444" stroke-width="1.2"/>
<line x1="585.1" y1="963.97" x2="589.8" y2="963.97" stroke="#444" stroke-width="1.2"/>
<line x1="585.1" y1="953.75" x2="589.8" y2="953.75" stroke="#444" stroke-width="1.2"/>
<line x1="585.1" y1="945.82" x2="589.8" y2="945.82" stroke="#444" stroke-width="1.2"/>
<line x1="585.1" y1="939.35" x2="589.8" y2="939.35" stroke="#444" stroke-width="1.2"/>
<line x1="585.1" y1="933.87" x2="589.8" y2="933.87" stroke="#444" stroke-width="1.2"/>
<line x1="585.1" y1="929.13" x2="589.8" y2="929.13" stroke="#444" stroke-width="1.2"/>
<line x1="585.1" y1="924.94" x2="589.8" y2="924.94" stroke="#444" stroke-width="1.2"/>
<line x1="580.8" y1="921.2" x2="589.8" y2="921.2" stroke="#2a2a2a" stroke-width="1.4"/>
<text x="568.6" y="1257.7" font-size="24" text-anchor="end">2</text>
<text x="568.6" y="1175.9" font-size="24" text-anchor="end">3</text>
<text x="568.6" y="1094.1" font-size="24" text-anchor="end">4</text>
<text x="568.6" y="1012.3" font-size="24" text-anchor="end">5</text>
<text x="568.6" y="930.5" font-size="24" text-anchor="end">6</text>
<line x1="581" y1="1273.2" x2="853.7" y2="1273.2" stroke="#2a2a2a" stroke-width="1.5"/>
<line x1="651.4" y1="1273.2" x2="651.4" y2="1282" stroke="#2a2a2a" stroke-width="1.5"/>
<line x1="792" y1="1273.2" x2="792" y2="1282" stroke="#2a2a2a" stroke-width="1.5"/>
<text x="594.86" y="1314.3" font-size="27.5" textLength="94.08" lengthAdjust="spacingAndGlyphs">Week 8</text>
<text x="725.66" y="1314.3" font-size="27.5" textLength="105.28" lengthAdjust="spacingAndGlyphs">Week 14</text>
<line x1="589.8" y1="1234.1" x2="853.7" y2="1234.1" stroke="#555" stroke-width="1.9" stroke-dasharray="14.3 4.45"/>
<circle cx="623.5" cy="928.4" r="8.8" fill="#d3d3d3" stroke="#000" stroke-width="1.1"/>
<circle cx="623.5" cy="966.2" r="8.8" fill="#fd7e79" stroke="#000" stroke-width="1.1"/>
<text x="644.76" y="937.9" font-size="27.5" textLength="74.97" lengthAdjust="spacingAndGlyphs">H1 HA</text>
<text x="644.76" y="975.7" font-size="27.5" textLength="128.87" lengthAdjust="spacingAndGlyphs">H1 HA-12D</text>
<text x="602.5" y="1068.9" font-size="19" textLength="94.9" lengthAdjust="spacingAndGlyphs"><tspan font-style="italic">P</tspan> = 0.0037</text>
<line x1="625.4" y1="1077.3" x2="678.4" y2="1077.3" stroke="#555" stroke-width="1.4"/>
<text x="745.2" y="1050.3" font-size="19" textLength="91.7" lengthAdjust="spacingAndGlyphs"><tspan font-style="italic">P</tspan> = 0.0015</text>
<line x1="765.6" y1="1058.3" x2="818.5" y2="1058.3" stroke="#555" stroke-width="1.4"/>
<line x1="624.8" y1="1179.5" x2="624.8" y2="1211" stroke="#555" stroke-width="1.4"/>
<line x1="615.9" y1="1179.5" x2="633.8" y2="1179.5" stroke="#333" stroke-width="1.4"/>
<line x1="677.9" y1="1143" x2="677.9" y2="1181.3" stroke="#555" stroke-width="1.4"/>
<line x1="668.9" y1="1181.3" x2="686.8" y2="1181.3" stroke="#333" stroke-width="1.4"/>
<line x1="765.6" y1="1147" x2="765.6" y2="1184" stroke="#555" stroke-width="1.4"/>
<line x1="757" y1="1147" x2="774" y2="1147" stroke="#333" stroke-width="1.4"/>
<line x1="818.3" y1="1121" x2="818.3" y2="1150" stroke="#555" stroke-width="1.4"/>
<line x1="603.2" y1="1210.9" x2="646.8" y2="1210.9" stroke="#000" stroke-width="4.2"/>
<line x1="655.9" y1="1142.9" x2="699.5" y2="1142.9" stroke="#000" stroke-width="4.2"/>
<line x1="743.2" y1="1183.8" x2="788" y2="1183.8" stroke="#000" stroke-width="4.2"/>
<line x1="796.2" y1="1120.8" x2="840.7" y2="1120.8" stroke="#000" stroke-width="4.2"/>
<circle cx="624.8" cy="1137.2" r="8.6" fill="#d3d3d3" stroke="#000" stroke-width="1.1"/>
<circle cx="621.8" cy="1192.5" r="8.6" fill="#d3d3d3" stroke="#000" stroke-width="1.1"/>
<circle cx="624.8" cy="1189.5" r="8.6" fill="#d3d3d3" stroke="#000" stroke-width="1.1"/>
<circle cx="628.3" cy="1197.7" r="8.6" fill="#d3d3d3" stroke="#000" stroke-width="1.1"/>
<circle cx="619.6" cy="1225.4" r="8.6" fill="#d3d3d3" stroke="#000" stroke-width="1.1"/>
<circle cx="626.3" cy="1226.9" r="8.6" fill="#d3d3d3" stroke="#000" stroke-width="1.1"/>
<circle cx="615.1" cy="1233.6" r="8.6" fill="#d3d3d3" stroke="#000" stroke-width="1.1"/>
<circle cx="623.3" cy="1234.4" r="8.6" fill="#d3d3d3" stroke="#000" stroke-width="1.1"/>
<circle cx="633.8" cy="1233.6" r="8.6" fill="#d3d3d3" stroke="#000" stroke-width="1.1"/>
<circle cx="668.9" cy="1102.6" r="8.6" fill="#fd7e79" stroke="#000" stroke-width="1.1"/>
<circle cx="686.4" cy="1106.6" r="8.6" fill="#fd7e79" stroke="#000" stroke-width="1.1"/>
<circle cx="677.1" cy="1113.3" r="8.6" fill="#fd7e79" stroke="#000" stroke-width="1.1"/>
<circle cx="677.9" cy="1123" r="8.6" fill="#fd7e79" stroke="#000" stroke-width="1.1"/>
<circle cx="672.6" cy="1141" r="8.6" fill="#fd7e79" stroke="#000" stroke-width="1.1"/>
<circle cx="682.3" cy="1144" r="8.6" fill="#fd7e79" stroke="#000" stroke-width="1.1"/>
<circle cx="677.9" cy="1150.7" r="8.6" fill="#fd7e79" stroke="#000" stroke-width="1.1"/>
<circle cx="668.9" cy="1155.9" r="8.6" fill="#fd7e79" stroke="#000" stroke-width="1.1"/>
<circle cx="686.4" cy="1155.9" r="8.6" fill="#fd7e79" stroke="#000" stroke-width="1.1"/>
<circle cx="677.9" cy="1234.4" r="8.6" fill="#fd7e79" stroke="#000" stroke-width="1.1"/>
<circle cx="765.6" cy="1104.4" r="8.6" fill="#d3d3d3" stroke="#000" stroke-width="1.1"/>
<circle cx="762.6" cy="1152.2" r="8.6" fill="#d3d3d3" stroke="#000" stroke-width="1.1"/>
<circle cx="768.6" cy="1159.6" r="8.6" fill="#d3d3d3" stroke="#000" stroke-width="1.1"/>
<circle cx="762.6" cy="1171.6" r="8.6" fill="#d3d3d3" stroke="#000" stroke-width="1.1"/>
<circle cx="768.6" cy="1187.7" r="8.6" fill="#d3d3d3" stroke="#000" stroke-width="1.1"/>
<circle cx="756.6" cy="1199.2" r="8.6" fill="#d3d3d3" stroke="#000" stroke-width="1.1"/>
<circle cx="762.6" cy="1209" r="8.6" fill="#d3d3d3" stroke="#000" stroke-width="1.1"/>
<circle cx="768.6" cy="1217.9" r="8.6" fill="#d3d3d3" stroke="#000" stroke-width="1.1"/>
<circle cx="774.5" cy="1212.7" r="8.6" fill="#d3d3d3" stroke="#000" stroke-width="1.1"/>
<circle cx="756.6" cy="1222.4" r="8.6" fill="#d3d3d3" stroke="#000" stroke-width="1.1"/>
<circle cx="809.3" cy="1088.7" r="8.6" fill="#fd7e79" stroke="#000" stroke-width="1.1"/>
<circle cx="827.6" cy="1088.7" r="8.6" fill="#fd7e79" stroke="#000" stroke-width="1.1"/>
<circle cx="818.3" cy="1099.9" r="8.6" fill="#fd7e79" stroke="#000" stroke-width="1.1"/>
<circle cx="818.3" cy="1092.1" r="8.6" fill="#fd7e79" stroke="#000" stroke-width="1.1"/>
<circle cx="827.6" cy="1105.9" r="8.6" fill="#fd7e79" stroke="#000" stroke-width="1.1"/>
<circle cx="809.3" cy="1114.1" r="8.6" fill="#fd7e79" stroke="#000" stroke-width="1.1"/>
<circle cx="818.3" cy="1128.3" r="8.6" fill="#fd7e79" stroke="#000" stroke-width="1.1"/>
<circle cx="818.3" cy="1154.4" r="8.6" fill="#fd7e79" stroke="#000" stroke-width="1.1"/>
<circle cx="818.3" cy="1148.4" r="8.6" fill="#fd7e79" stroke="#000" stroke-width="1.1"/>
<circle cx="818.3" cy="1187.6" r="8.6" fill="#fd7e79" stroke="#000" stroke-width="1.1"/>
<text x="914.7" y="919.1" font-size="41" textLength="17.5" lengthAdjust="spacingAndGlyphs" font-weight="bold">f</text>
<text x="1079.1" y="1195.6" font-size="24"><tspan font-family="DejaVu Sans" font-size="23">↓</tspan><tspan dx="-2.5"> 3×</tspan></text>
<text x="1142.5" y="1199.8" font-size="24"><tspan font-family="DejaVu Sans" font-size="23">↓</tspan><tspan dx="-2.5"> 4×</tspan></text>
<line x1="1031.5" y1="1275.5" x2="1031.5" y2="924.08" stroke="#2a2a2a" stroke-width="1.4"/>
<line x1="1022.5" y1="1275.5" x2="1031.5" y2="1275.5" stroke="#2a2a2a" stroke-width="1.4"/>
<line x1="1026.8" y1="1257.87" x2="1031.5" y2="1257.87" stroke="#444" stroke-width="1.2"/>
<line x1="1026.8" y1="1247.56" x2="1031.5" y2="1247.56" stroke="#444" stroke-width="1.2"/>
<line x1="1026.8" y1="1240.24" x2="1031.5" y2="1240.24" stroke="#444" stroke-width="1.2"/>
<line x1="1026.8" y1="1234.56" x2="1031.5" y2="1234.56" stroke="#444" stroke-width="1.2"/>
<line x1="1026.8" y1="1229.92" x2="1031.5" y2="1229.92" stroke="#444" stroke-width="1.2"/>
<line x1="1026.8" y1="1226" x2="1031.5" y2="1226" stroke="#444" stroke-width="1.2"/>
<line x1="1026.8" y1="1222.61" x2="1031.5" y2="1222.61" stroke="#444" stroke-width="1.2"/>
<line x1="1026.8" y1="1219.61" x2="1031.5" y2="1219.61" stroke="#444" stroke-width="1.2"/>
<line x1="1022.5" y1="1216.93" x2="1031.5" y2="1216.93" stroke="#2a2a2a" stroke-width="1.4"/>
<line x1="1026.8" y1="1199.3" x2="1031.5" y2="1199.3" stroke="#444" stroke-width="1.2"/>
<line x1="1026.8" y1="1188.99" x2="1031.5" y2="1188.99" stroke="#444" stroke-width="1.2"/>
<line x1="1026.8" y1="1181.67" x2="1031.5" y2="1181.67" stroke="#444" stroke-width="1.2"/>
<line x1="1026.8" y1="1175.99" x2="1031.5" y2="1175.99" stroke="#444" stroke-width="1.2"/>
<line x1="1026.8" y1="1171.35" x2="1031.5" y2="1171.35" stroke="#444" stroke-width="1.2"/>
<line x1="1026.8" y1="1167.43" x2="1031.5" y2="1167.43" stroke="#444" stroke-width="1.2"/>
<line x1="1026.8" y1="1164.04" x2="1031.5" y2="1164.04" stroke="#444" stroke-width="1.2"/>
<line x1="1026.8" y1="1161.04" x2="1031.5" y2="1161.04" stroke="#444" stroke-width="1.2"/>
<line x1="1022.5" y1="1158.36" x2="1031.5" y2="1158.36" stroke="#2a2a2a" stroke-width="1.4"/>
<line x1="1026.8" y1="1140.73" x2="1031.5" y2="1140.73" stroke="#444" stroke-width="1.2"/>
<line x1="1026.8" y1="1130.42" x2="1031.5" y2="1130.42" stroke="#444" stroke-width="1.2"/>
<line x1="1026.8" y1="1123.1" x2="1031.5" y2="1123.1" stroke="#444" stroke-width="1.2"/>
<line x1="1026.8" y1="1117.42" x2="1031.5" y2="1117.42" stroke="#444" stroke-width="1.2"/>
<line x1="1026.8" y1="1112.78" x2="1031.5" y2="1112.78" stroke="#444" stroke-width="1.2"/>
<line x1="1026.8" y1="1108.86" x2="1031.5" y2="1108.86" stroke="#444" stroke-width="1.2"/>
<line x1="1026.8" y1="1105.47" x2="1031.5" y2="1105.47" stroke="#444" stroke-width="1.2"/>
<line x1="1026.8" y1="1102.47" x2="1031.5" y2="1102.47" stroke="#444" stroke-width="1.2"/>
<line x1="1022.5" y1="1099.79" x2="1031.5" y2="1099.79" stroke="#2a2a2a" stroke-width="1.4"/>
<line x1="1026.8" y1="1082.16" x2="1031.5" y2="1082.16" stroke="#444" stroke-width="1.2"/>
<line x1="1026.8" y1="1071.85" x2="1031.5" y2="1071.85" stroke="#444" stroke-width="1.2"/>
<line x1="1026.8" y1="1064.53" x2="1031.5" y2="1064.53" stroke="#444" stroke-width="1.2"/>
<line x1="1026.8" y1="1058.85" x2="1031.5" y2="1058.85" stroke="#444" stroke-width="1.2"/>
<line x1="1026.8" y1="1054.21" x2="1031.5" y2="1054.21" stroke="#444" stroke-width="1.2"/>
<line x1="1026.8" y1="1050.29" x2="1031.5" y2="1050.29" stroke="#444" stroke-width="1.2"/>
<line x1="1026.8" y1="1046.9" x2="1031.5" y2="1046.9" stroke="#444" stroke-width="1.2"/>
<line x1="1026.8" y1="1043.9" x2="1031.5" y2="1043.9" stroke="#444" stroke-width="1.2"/>
<line x1="1022.5" y1="1041.22" x2="1031.5" y2="1041.22" stroke="#2a2a2a" stroke-width="1.4"/>
<line x1="1026.8" y1="1023.59" x2="1031.5" y2="1023.59" stroke="#444" stroke-width="1.2"/>
<line x1="1026.8" y1="1013.28" x2="1031.5" y2="1013.28" stroke="#444" stroke-width="1.2"/>
<line x1="1026.8" y1="1005.96" x2="1031.5" y2="1005.96" stroke="#444" stroke-width="1.2"/>
<line x1="1026.8" y1="1000.28" x2="1031.5" y2="1000.28" stroke="#444" stroke-width="1.2"/>
<line x1="1026.8" y1="995.64" x2="1031.5" y2="995.64" stroke="#444" stroke-width="1.2"/>
<line x1="1026.8" y1="991.72" x2="1031.5" y2="991.72" stroke="#444" stroke-width="1.2"/>
<line x1="1026.8" y1="988.33" x2="1031.5" y2="988.33" stroke="#444" stroke-width="1.2"/>
<line x1="1026.8" y1="985.33" x2="1031.5" y2="985.33" stroke="#444" stroke-width="1.2"/>
<line x1="1022.5" y1="982.65" x2="1031.5" y2="982.65" stroke="#2a2a2a" stroke-width="1.4"/>
<line x1="1026.8" y1="965.02" x2="1031.5" y2="965.02" stroke="#444" stroke-width="1.2"/>
<line x1="1026.8" y1="954.71" x2="1031.5" y2="954.71" stroke="#444" stroke-width="1.2"/>
<line x1="1026.8" y1="947.39" x2="1031.5" y2="947.39" stroke="#444" stroke-width="1.2"/>
<line x1="1026.8" y1="941.71" x2="1031.5" y2="941.71" stroke="#444" stroke-width="1.2"/>
<line x1="1026.8" y1="937.07" x2="1031.5" y2="937.07" stroke="#444" stroke-width="1.2"/>
<line x1="1026.8" y1="933.15" x2="1031.5" y2="933.15" stroke="#444" stroke-width="1.2"/>
<line x1="1026.8" y1="929.76" x2="1031.5" y2="929.76" stroke="#444" stroke-width="1.2"/>
<line x1="1026.8" y1="926.76" x2="1031.5" y2="926.76" stroke="#444" stroke-width="1.2"/>
<line x1="1022.5" y1="924.08" x2="1031.5" y2="924.08" stroke="#2a2a2a" stroke-width="1.4"/>
<text x="1011" y="1285.5" font-size="24" text-anchor="end">1</text>
<text x="1011" y="1226.93" font-size="24" text-anchor="end">2</text>
<text x="1011" y="1168.36" font-size="24" text-anchor="end">3</text>
<text x="1011" y="1109.79" font-size="24" text-anchor="end">4</text>
<text x="1011" y="1051.22" font-size="24" text-anchor="end">5</text>
<text x="1011" y="992.65" font-size="24" text-anchor="end">6</text>
<text x="1011" y="934.08" font-size="24" text-anchor="end">7</text>
<line x1="1022.2" y1="1275.5" x2="1295.5" y2="1275.5" stroke="#555" stroke-width="1.6"/>
<line x1="1064.3" y1="1275.5" x2="1064.3" y2="1284.7" stroke="#555" stroke-width="1.5"/>
<line x1="1113.5" y1="1275.5" x2="1113.5" y2="1284.7" stroke="#555" stroke-width="1.5"/>
<line x1="1162.7" y1="1275.5" x2="1162.7" y2="1284.7" stroke="#555" stroke-width="1.5"/>
<line x1="1211.9" y1="1275.5" x2="1211.9" y2="1284.7" stroke="#555" stroke-width="1.5"/>
<line x1="1261.2" y1="1275.5" x2="1261.2" y2="1284.7" stroke="#555" stroke-width="1.5"/>
<line x1="1031.5" y1="1234.9" x2="1295.5" y2="1234.9" stroke="#555" stroke-width="1.9" stroke-dasharray="14.3 4.45"/>
<text x="1219.36" y="1264.7" font-size="27.5" textLength="74.47" lengthAdjust="spacingAndGlyphs">H1 HA</text>
<line x1="1066.7" y1="926" x2="1266.4" y2="926" stroke="#222" stroke-width="1.25"/>
<text x="1119.3" y="921.1" font-size="19" textLength="94.7" lengthAdjust="spacingAndGlyphs"><tspan font-style="italic">P</tspan> &gt; 0.9999</text>
<line x1="1066.7" y1="963.2" x2="1214.9" y2="963.2" stroke="#222" stroke-width="1.25"/>
<text x="1093.7" y="957.8" font-size="19" textLength="94.5" lengthAdjust="spacingAndGlyphs"><tspan font-style="italic">P</tspan> &gt; 0.9999</text>
<line x1="1066.7" y1="1000" x2="1162.8" y2="1000" stroke="#222" stroke-width="1.25"/>
<text x="1068.6" y="995" font-size="19" textLength="92.3" lengthAdjust="spacingAndGlyphs"><tspan font-style="italic">P</tspan> = 0.2280</text>
<line x1="1066.7" y1="1036.8" x2="1115.6" y2="1036.8" stroke="#222" stroke-width="1.25"/>
<text x="1045.7" y="1031.4" font-size="19" textLength="91.7" lengthAdjust="spacingAndGlyphs"><tspan font-style="italic">P</tspan> = 0.3557</text>
<line x1="1056" y1="1077.6" x2="1073" y2="1077.6" stroke="#777" stroke-width="1.4"/>
<line x1="1105" y1="1108" x2="1122" y2="1108" stroke="#777" stroke-width="1.4"/>
<line x1="1154.3" y1="1111" x2="1171.3" y2="1111" stroke="#777" stroke-width="1.4"/>
<line x1="1203.5" y1="1084.4" x2="1220.5" y2="1084.4" stroke="#777" stroke-width="1.4"/>
<line x1="1252.7" y1="1082.4" x2="1269.7" y2="1082.4" stroke="#777" stroke-width="1.4"/>
<line x1="1043.4" y1="1099.8" x2="1085" y2="1099.8" stroke="#000" stroke-width="4.0"/>
<line x1="1093" y1="1130.8" x2="1134" y2="1130.8" stroke="#000" stroke-width="4.0"/>
<line x1="1142.3" y1="1135.3" x2="1183" y2="1135.3" stroke="#000" stroke-width="4.0"/>
<line x1="1191.6" y1="1111.8" x2="1232.6" y2="1111.8" stroke="#000" stroke-width="4.0"/>
<line x1="1241.2" y1="1108.3" x2="1281.6" y2="1108.3" stroke="#000" stroke-width="4.0"/>
<circle cx="1064.5" cy="1085.6" r="8.8" fill="#d3d3d3" stroke="#000" stroke-width="1.1"/>
<circle cx="1056.5" cy="1087.8" r="8.8" fill="#d3d3d3" stroke="#000" stroke-width="1.1"/>
<circle cx="1071.9" cy="1090.7" r="8.8" fill="#d3d3d3" stroke="#000" stroke-width="1.1"/>
<circle cx="1071.9" cy="1102.1" r="8.8" fill="#d3d3d3" stroke="#000" stroke-width="1.1"/>
<circle cx="1056.5" cy="1099.8" r="8.8" fill="#d3d3d3" stroke="#000" stroke-width="1.1"/>
<circle cx="1063.9" cy="1117.5" r="8.8" fill="#d3d3d3" stroke="#000" stroke-width="1.1"/>
<circle cx="1056.5" cy="1128.8" r="8.8" fill="#d3d3d3" stroke="#000" stroke-width="1.1"/>
<circle cx="1071.9" cy="1124.3" r="8.8" fill="#d3d3d3" stroke="#000" stroke-width="1.1"/>
<circle cx="1064.1" cy="1053.4" r="8.8" fill="#d3d3d3" stroke="#000" stroke-width="1.1"/>
<circle cx="1113.5" cy="1075.3" r="8.8" fill="#dfc3fb" stroke="#000" stroke-width="1.1"/>
<circle cx="1108.9" cy="1117.5" r="8.8" fill="#dfc3fb" stroke="#000" stroke-width="1.1"/>
<circle cx="1116.1" cy="1120.3" r="8.8" fill="#dfc3fb" stroke="#000" stroke-width="1.1"/>
<circle cx="1113.8" cy="1130.6" r="8.8" fill="#dfc3fb" stroke="#000" stroke-width="1.1"/>
<circle cx="1120.3" cy="1134.5" r="8.8" fill="#dfc3fb" stroke="#000" stroke-width="1.1"/>
<circle cx="1115.2" cy="1149.4" r="8.8" fill="#dfc3fb" stroke="#000" stroke-width="1.1"/>
<circle cx="1111.8" cy="1142" r="8.8" fill="#dfc3fb" stroke="#000" stroke-width="1.1"/>
<circle cx="1120.9" cy="1142.5" r="8.8" fill="#dfc3fb" stroke="#000" stroke-width="1.1"/>
<circle cx="1108.9" cy="1138" r="8.8" fill="#dfc3fb" stroke="#000" stroke-width="1.1"/>
<circle cx="1105.8" cy="1157.9" r="8.8" fill="#dfc3fb" stroke="#000" stroke-width="1.1"/>
<circle cx="1162.8" cy="1092.4" r="8.8" fill="#b3f5b8" stroke="#000" stroke-width="1.1"/>
<circle cx="1162.8" cy="1105.8" r="8.8" fill="#b3f5b8" stroke="#000" stroke-width="1.1"/>
<circle cx="1159.6" cy="1119.7" r="8.8" fill="#b3f5b8" stroke="#000" stroke-width="1.1"/>
<circle cx="1165.1" cy="1124.3" r="8.8" fill="#b3f5b8" stroke="#000" stroke-width="1.1"/>
<circle cx="1162.8" cy="1140.2" r="8.8" fill="#b3f5b8" stroke="#000" stroke-width="1.1"/>
<circle cx="1159.4" cy="1147.6" r="8.8" fill="#b3f5b8" stroke="#000" stroke-width="1.1"/>
<circle cx="1167" cy="1148.2" r="8.8" fill="#b3f5b8" stroke="#000" stroke-width="1.1"/>
<circle cx="1162.8" cy="1149.1" r="8.8" fill="#b3f5b8" stroke="#000" stroke-width="1.1"/>
<circle cx="1155" cy="1158.5" r="8.8" fill="#b3f5b8" stroke="#000" stroke-width="1.1"/>
<circle cx="1170.4" cy="1164.7" r="8.8" fill="#b3f5b8" stroke="#000" stroke-width="1.1"/>
<circle cx="1211.9" cy="1058.2" r="8.8" fill="#bbd5ef" stroke="#000" stroke-width="1.1"/>
<circle cx="1207.6" cy="1093" r="8.8" fill="#bbd5ef" stroke="#000" stroke-width="1.1"/>
<circle cx="1215.6" cy="1095.8" r="8.8" fill="#bbd5ef" stroke="#000" stroke-width="1.1"/>
<circle cx="1220.7" cy="1104.9" r="8.8" fill="#bbd5ef" stroke="#000" stroke-width="1.1"/>
<circle cx="1211.9" cy="1104.9" r="8.8" fill="#bbd5ef" stroke="#000" stroke-width="1.1"/>
<circle cx="1204.2" cy="1111.8" r="8.8" fill="#bbd5ef" stroke="#000" stroke-width="1.1"/>
<circle cx="1216.7" cy="1121.4" r="8.8" fill="#bbd5ef" stroke="#000" stroke-width="1.1"/>
<circle cx="1208.2" cy="1129.4" r="8.8" fill="#bbd5ef" stroke="#000" stroke-width="1.1"/>
<circle cx="1207.6" cy="1149.9" r="8.8" fill="#bbd5ef" stroke="#000" stroke-width="1.1"/>
<circle cx="1216.1" cy="1145.9" r="8.8" fill="#bbd5ef" stroke="#000" stroke-width="1.1"/>
<circle cx="1261.1" cy="1058.2" r="8.8" fill="#fdb6a0" stroke="#000" stroke-width="1.1"/>
<circle cx="1261.7" cy="1088.4" r="8.8" fill="#fdb6a0" stroke="#000" stroke-width="1.1"/>
<circle cx="1269.1" cy="1097.5" r="8.8" fill="#fdb6a0" stroke="#000" stroke-width="1.1"/>
<circle cx="1253.7" cy="1095.2" r="8.8" fill="#fdb6a0" stroke="#000" stroke-width="1.1"/>
<circle cx="1261.1" cy="1102.1" r="8.8" fill="#fdb6a0" stroke="#000" stroke-width="1.1"/>
<circle cx="1257.1" cy="1110.6" r="8.8" fill="#fdb6a0" stroke="#000" stroke-width="1.1"/>
<circle cx="1265.7" cy="1111.8" r="8.8" fill="#fdb6a0" stroke="#000" stroke-width="1.1"/>
<circle cx="1261.1" cy="1129.4" r="8.8" fill="#fdb6a0" stroke="#000" stroke-width="1.1"/>
<circle cx="1253.7" cy="1144.8" r="8.8" fill="#fdb6a0" stroke="#000" stroke-width="1.1"/>
<circle cx="1269.1" cy="1144.8" r="8.8" fill="#fdb6a0" stroke="#000" stroke-width="1.1"/>
<text x="1069.3" y="1305" font-size="27.5" text-anchor="end" textLength="11.5" lengthAdjust="spacingAndGlyphs" transform="rotate(-45 1069.3 1305)">–</text>
<text x="1122.5" y="1311" font-size="27.5" text-anchor="end" textLength="82.4" lengthAdjust="spacingAndGlyphs" transform="rotate(-45 1122.5 1311)">H2897</text>
<text x="1174.7" y="1311" font-size="27.5" text-anchor="end" textLength="66.7" lengthAdjust="spacingAndGlyphs" transform="rotate(-45 1174.7 1311)">6649</text>
<text x="1223.9" y="1311" font-size="27.5" text-anchor="end" textLength="124.2" lengthAdjust="spacingAndGlyphs" transform="rotate(-45 1223.9 1311)">MEDI8852</text>
<text x="1273.2" y="1311" font-size="27.5" text-anchor="end" textLength="94" lengthAdjust="spacingAndGlyphs" transform="rotate(-45 1273.2 1311)">CR9114</text>
<text x="939.1" y="1101.5" font-size="28" text-anchor="middle" textLength="177.6" lengthAdjust="spacingAndGlyphs" transform="rotate(-90 939.1 1101.5)">log anti-H1 HA</text>
<text x="971.9" y="1102.4" font-size="28" text-anchor="middle" textLength="228" lengthAdjust="spacingAndGlyphs" transform="rotate(-90 971.9 1102.4)">IgG titer (week 14)</text>
<text x="1421.8" y="1180.8" font-size="24"><tspan font-family="DejaVu Sans" font-size="23">↓</tspan><tspan dx="-2.5"> 3×</tspan></text>
<text x="1473.6" y="1197.3" font-size="24"><tspan font-family="DejaVu Sans" font-size="23">↓</tspan><tspan dx="-2.5"> 6×</tspan></text>
<line x1="1367.4" y1="1275.7" x2="1367.4" y2="924.1" stroke="#2a2a2a" stroke-width="1.4"/>
<line x1="1358.4" y1="1275.7" x2="1367.4" y2="1275.7" stroke="#2a2a2a" stroke-width="1.4"/>
<line x1="1362.7" y1="1258.06" x2="1367.4" y2="1258.06" stroke="#444" stroke-width="1.2"/>
<line x1="1362.7" y1="1247.74" x2="1367.4" y2="1247.74" stroke="#444" stroke-width="1.2"/>
<line x1="1362.7" y1="1240.42" x2="1367.4" y2="1240.42" stroke="#444" stroke-width="1.2"/>
<line x1="1362.7" y1="1234.74" x2="1367.4" y2="1234.74" stroke="#444" stroke-width="1.2"/>
<line x1="1362.7" y1="1230.1" x2="1367.4" y2="1230.1" stroke="#444" stroke-width="1.2"/>
<line x1="1362.7" y1="1226.18" x2="1367.4" y2="1226.18" stroke="#444" stroke-width="1.2"/>
<line x1="1362.7" y1="1222.78" x2="1367.4" y2="1222.78" stroke="#444" stroke-width="1.2"/>
<line x1="1362.7" y1="1219.78" x2="1367.4" y2="1219.78" stroke="#444" stroke-width="1.2"/>
<line x1="1358.4" y1="1217.1" x2="1367.4" y2="1217.1" stroke="#2a2a2a" stroke-width="1.4"/>
<line x1="1362.7" y1="1199.46" x2="1367.4" y2="1199.46" stroke="#444" stroke-width="1.2"/>
<line x1="1362.7" y1="1189.14" x2="1367.4" y2="1189.14" stroke="#444" stroke-width="1.2"/>
<line x1="1362.7" y1="1181.82" x2="1367.4" y2="1181.82" stroke="#444" stroke-width="1.2"/>
<line x1="1362.7" y1="1176.14" x2="1367.4" y2="1176.14" stroke="#444" stroke-width="1.2"/>
<line x1="1362.7" y1="1171.5" x2="1367.4" y2="1171.5" stroke="#444" stroke-width="1.2"/>
<line x1="1362.7" y1="1167.58" x2="1367.4" y2="1167.58" stroke="#444" stroke-width="1.2"/>
<line x1="1362.7" y1="1164.18" x2="1367.4" y2="1164.18" stroke="#444" stroke-width="1.2"/>
<line x1="1362.7" y1="1161.18" x2="1367.4" y2="1161.18" stroke="#444" stroke-width="1.2"/>
<line x1="1358.4" y1="1158.5" x2="1367.4" y2="1158.5" stroke="#2a2a2a" stroke-width="1.4"/>
<line x1="1362.7" y1="1140.86" x2="1367.4" y2="1140.86" stroke="#444" stroke-width="1.2"/>
<line x1="1362.7" y1="1130.54" x2="1367.4" y2="1130.54" stroke="#444" stroke-width="1.2"/>
<line x1="1362.7" y1="1123.22" x2="1367.4" y2="1123.22" stroke="#444" stroke-width="1.2"/>
<line x1="1362.7" y1="1117.54" x2="1367.4" y2="1117.54" stroke="#444" stroke-width="1.2"/>
<line x1="1362.7" y1="1112.9" x2="1367.4" y2="1112.9" stroke="#444" stroke-width="1.2"/>
<line x1="1362.7" y1="1108.98" x2="1367.4" y2="1108.98" stroke="#444" stroke-width="1.2"/>
<line x1="1362.7" y1="1105.58" x2="1367.4" y2="1105.58" stroke="#444" stroke-width="1.2"/>
<line x1="1362.7" y1="1102.58" x2="1367.4" y2="1102.58" stroke="#444" stroke-width="1.2"/>
<line x1="1358.4" y1="1099.9" x2="1367.4" y2="1099.9" stroke="#2a2a2a" stroke-width="1.4"/>
<line x1="1362.7" y1="1082.26" x2="1367.4" y2="1082.26" stroke="#444" stroke-width="1.2"/>
<line x1="1362.7" y1="1071.94" x2="1367.4" y2="1071.94" stroke="#444" stroke-width="1.2"/>
<line x1="1362.7" y1="1064.62" x2="1367.4" y2="1064.62" stroke="#444" stroke-width="1.2"/>
<line x1="1362.7" y1="1058.94" x2="1367.4" y2="1058.94" stroke="#444" stroke-width="1.2"/>
<line x1="1362.7" y1="1054.3" x2="1367.4" y2="1054.3" stroke="#444" stroke-width="1.2"/>
<line x1="1362.7" y1="1050.38" x2="1367.4" y2="1050.38" stroke="#444" stroke-width="1.2"/>
<line x1="1362.7" y1="1046.98" x2="1367.4" y2="1046.98" stroke="#444" stroke-width="1.2"/>
<line x1="1362.7" y1="1043.98" x2="1367.4" y2="1043.98" stroke="#444" stroke-width="1.2"/>
<line x1="1358.4" y1="1041.3" x2="1367.4" y2="1041.3" stroke="#2a2a2a" stroke-width="1.4"/>
<line x1="1362.7" y1="1023.66" x2="1367.4" y2="1023.66" stroke="#444" stroke-width="1.2"/>
<line x1="1362.7" y1="1013.34" x2="1367.4" y2="1013.34" stroke="#444" stroke-width="1.2"/>
<line x1="1362.7" y1="1006.02" x2="1367.4" y2="1006.02" stroke="#444" stroke-width="1.2"/>
<line x1="1362.7" y1="1000.34" x2="1367.4" y2="1000.34" stroke="#444" stroke-width="1.2"/>
<line x1="1362.7" y1="995.7" x2="1367.4" y2="995.7" stroke="#444" stroke-width="1.2"/>
<line x1="1362.7" y1="991.78" x2="1367.4" y2="991.78" stroke="#444" stroke-width="1.2"/>
<line x1="1362.7" y1="988.38" x2="1367.4" y2="988.38" stroke="#444" stroke-width="1.2"/>
<line x1="1362.7" y1="985.38" x2="1367.4" y2="985.38" stroke="#444" stroke-width="1.2"/>
<line x1="1358.4" y1="982.7" x2="1367.4" y2="982.7" stroke="#2a2a2a" stroke-width="1.4"/>
<line x1="1362.7" y1="965.06" x2="1367.4" y2="965.06" stroke="#444" stroke-width="1.2"/>
<line x1="1362.7" y1="954.74" x2="1367.4" y2="954.74" stroke="#444" stroke-width="1.2"/>
<line x1="1362.7" y1="947.42" x2="1367.4" y2="947.42" stroke="#444" stroke-width="1.2"/>
<line x1="1362.7" y1="941.74" x2="1367.4" y2="941.74" stroke="#444" stroke-width="1.2"/>
<line x1="1362.7" y1="937.1" x2="1367.4" y2="937.1" stroke="#444" stroke-width="1.2"/>
<line x1="1362.7" y1="933.18" x2="1367.4" y2="933.18" stroke="#444" stroke-width="1.2"/>
<line x1="1362.7" y1="929.78" x2="1367.4" y2="929.78" stroke="#444" stroke-width="1.2"/>
<line x1="1362.7" y1="926.78" x2="1367.4" y2="926.78" stroke="#444" stroke-width="1.2"/>
<line x1="1358.4" y1="924.1" x2="1367.4" y2="924.1" stroke="#2a2a2a" stroke-width="1.4"/>
<text x="1346.9" y="1285.7" font-size="24" text-anchor="end">1</text>
<text x="1346.9" y="1227.1" font-size="24" text-anchor="end">2</text>
<text x="1346.9" y="1168.5" font-size="24" text-anchor="end">3</text>
<text x="1346.9" y="1109.9" font-size="24" text-anchor="end">4</text>
<text x="1346.9" y="1051.3" font-size="24" text-anchor="end">5</text>
<text x="1346.9" y="992.7" font-size="24" text-anchor="end">6</text>
<text x="1346.9" y="934.1" font-size="24" text-anchor="end">7</text>
<line x1="1358.1" y1="1275.7" x2="1630.9" y2="1275.7" stroke="#555" stroke-width="1.6"/>
<line x1="1400.1" y1="1275.7" x2="1400.1" y2="1284.9" stroke="#555" stroke-width="1.5"/>
<line x1="1449.4" y1="1275.7" x2="1449.4" y2="1284.9" stroke="#555" stroke-width="1.5"/>
<line x1="1498.7" y1="1275.7" x2="1498.7" y2="1284.9" stroke="#555" stroke-width="1.5"/>
<line x1="1548" y1="1275.7" x2="1548" y2="1284.9" stroke="#555" stroke-width="1.5"/>
<line x1="1597.3" y1="1275.7" x2="1597.3" y2="1284.9" stroke="#555" stroke-width="1.5"/>
<line x1="1367.4" y1="1234.9" x2="1630.9" y2="1234.9" stroke="#555" stroke-width="1.9" stroke-dasharray="14.3 4.45"/>
<text x="1501.76" y="1264.7" font-size="27.5" textLength="128.07" lengthAdjust="spacingAndGlyphs">H1 HA-12D</text>
<line x1="1408.3" y1="926.4" x2="1607.8" y2="926.4" stroke="#222" stroke-width="1.25"/>
<text x="1460.9" y="920.6" font-size="19" textLength="94.8" lengthAdjust="spacingAndGlyphs"><tspan font-style="italic">P</tspan> &gt; 0.9999</text>
<line x1="1408.3" y1="963.5" x2="1556.4" y2="963.5" stroke="#222" stroke-width="1.25"/>
<text x="1435.3" y="957.7" font-size="19" textLength="94.4" lengthAdjust="spacingAndGlyphs"><tspan font-style="italic">P</tspan> &gt; 0.9999</text>
<line x1="1408.3" y1="1000.4" x2="1504.4" y2="1000.4" stroke="#222" stroke-width="1.25"/>
<text x="1409.4" y="993" font-size="19" textLength="94.4" lengthAdjust="spacingAndGlyphs"><tspan font-style="italic">P</tspan> &lt; 0.0001</text>
<line x1="1408.3" y1="1037.5" x2="1457.3" y2="1037.5" stroke="#222" stroke-width="1.25"/>
<text x="1384.5" y="1029.5" font-size="19" textLength="97.5" lengthAdjust="spacingAndGlyphs"><tspan font-style="italic">P</tspan> = 0.0006</text>
<line x1="1379.7" y1="1075.1" x2="1420.7" y2="1075.1" stroke="#000" stroke-width="4.0"/>
<line x1="1429" y1="1104.4" x2="1470" y2="1104.4" stroke="#000" stroke-width="4.0"/>
<line x1="1478" y1="1120.8" x2="1519.3" y2="1120.8" stroke="#000" stroke-width="4.0"/>
<line x1="1527.2" y1="1078.9" x2="1568.6" y2="1078.9" stroke="#000" stroke-width="4.0"/>
<line x1="1576.5" y1="1078.9" x2="1618" y2="1078.9" stroke="#000" stroke-width="4.0"/>
<circle cx="1397.3" cy="1061.1" r="8.8" fill="#d3d3d3" stroke="#000" stroke-width="1.1"/>
<circle cx="1407.6" cy="1066.2" r="8.8" fill="#d3d3d3" stroke="#000" stroke-width="1.1"/>
<circle cx="1391.6" cy="1070.8" r="8.8" fill="#d3d3d3" stroke="#000" stroke-width="1.1"/>
<circle cx="1392.8" cy="1072.5" r="8.8" fill="#d3d3d3" stroke="#000" stroke-width="1.1"/>
<circle cx="1399" cy="1077.6" r="8.8" fill="#d3d3d3" stroke="#000" stroke-width="1.1"/>
<circle cx="1400.2" cy="1056" r="8.8" fill="#d3d3d3" stroke="#000" stroke-width="1.1"/>
<circle cx="1402.5" cy="1077.6" r="8.8" fill="#d3d3d3" stroke="#000" stroke-width="1.1"/>
<circle cx="1402.2" cy="1095.8" r="8.8" fill="#d3d3d3" stroke="#000" stroke-width="1.1"/>
<circle cx="1398.2" cy="1111.2" r="8.8" fill="#d3d3d3" stroke="#000" stroke-width="1.1"/>
<circle cx="1454.9" cy="1085.6" r="8.8" fill="#dfc3fb" stroke="#000" stroke-width="1.1"/>
<circle cx="1445.7" cy="1085.6" r="8.8" fill="#dfc3fb" stroke="#000" stroke-width="1.1"/>
<circle cx="1449.7" cy="1085.6" r="8.8" fill="#dfc3fb" stroke="#000" stroke-width="1.1"/>
<circle cx="1457.1" cy="1094.7" r="8.8" fill="#dfc3fb" stroke="#000" stroke-width="1.1"/>
<circle cx="1441.2" cy="1102.1" r="8.8" fill="#dfc3fb" stroke="#000" stroke-width="1.1"/>
<circle cx="1451.8" cy="1103.2" r="8.8" fill="#dfc3fb" stroke="#000" stroke-width="1.1"/>
<circle cx="1446.9" cy="1123.7" r="8.8" fill="#dfc3fb" stroke="#000" stroke-width="1.1"/>
<circle cx="1452" cy="1120.9" r="8.8" fill="#dfc3fb" stroke="#000" stroke-width="1.1"/>
<circle cx="1449.2" cy="1145" r="8.8" fill="#dfc3fb" stroke="#000" stroke-width="1.1"/>
<circle cx="1490.8" cy="1089" r="8.8" fill="#b3f5b8" stroke="#000" stroke-width="1.1"/>
<circle cx="1504.5" cy="1101.5" r="8.8" fill="#b3f5b8" stroke="#000" stroke-width="1.1"/>
<circle cx="1509" cy="1106" r="8.8" fill="#b3f5b8" stroke="#000" stroke-width="1.1"/>
<circle cx="1496.5" cy="1103.8" r="8.8" fill="#b3f5b8" stroke="#000" stroke-width="1.1"/>
<circle cx="1503.3" cy="1114" r="8.8" fill="#b3f5b8" stroke="#000" stroke-width="1.1"/>
<circle cx="1496.5" cy="1112.9" r="8.8" fill="#b3f5b8" stroke="#000" stroke-width="1.1"/>
<circle cx="1498.8" cy="1126.5" r="8.8" fill="#b3f5b8" stroke="#000" stroke-width="1.1"/>
<circle cx="1498.2" cy="1142.5" r="8.8" fill="#b3f5b8" stroke="#000" stroke-width="1.1"/>
<circle cx="1503.9" cy="1146.4" r="8.8" fill="#b3f5b8" stroke="#000" stroke-width="1.1"/>
<circle cx="1493.7" cy="1159.5" r="8.8" fill="#b3f5b8" stroke="#000" stroke-width="1.1"/>
<circle cx="1550.6" cy="1061.1" r="8.8" fill="#bbd5ef" stroke="#000" stroke-width="1.1"/>
<circle cx="1540.3" cy="1070.7" r="8.8" fill="#bbd5ef" stroke="#000" stroke-width="1.1"/>
<circle cx="1554" cy="1069.6" r="8.8" fill="#bbd5ef" stroke="#000" stroke-width="1.1"/>
<circle cx="1558.6" cy="1072.4" r="8.8" fill="#bbd5ef" stroke="#000" stroke-width="1.1"/>
<circle cx="1546" cy="1061.6" r="8.8" fill="#bbd5ef" stroke="#000" stroke-width="1.1"/>
<circle cx="1548.1" cy="1077" r="8.8" fill="#bbd5ef" stroke="#000" stroke-width="1.1"/>
<circle cx="1550" cy="1085.5" r="8.8" fill="#bbd5ef" stroke="#000" stroke-width="1.1"/>
<circle cx="1546" cy="1099.2" r="8.8" fill="#bbd5ef" stroke="#000" stroke-width="1.1"/>
<circle cx="1548.1" cy="1118.6" r="8.8" fill="#bbd5ef" stroke="#000" stroke-width="1.1"/>
<circle cx="1601.8" cy="1060.5" r="8.8" fill="#fdb6a0" stroke="#000" stroke-width="1.1"/>
<circle cx="1591.6" cy="1071.9" r="8.8" fill="#fdb6a0" stroke="#000" stroke-width="1.1"/>
<circle cx="1594.8" cy="1058.8" r="8.8" fill="#fdb6a0" stroke="#000" stroke-width="1.1"/>
<circle cx="1602.4" cy="1069.6" r="8.8" fill="#fdb6a0" stroke="#000" stroke-width="1.1"/>
<circle cx="1605.2" cy="1082.1" r="8.8" fill="#fdb6a0" stroke="#000" stroke-width="1.1"/>
<circle cx="1600.1" cy="1087.8" r="8.8" fill="#fdb6a0" stroke="#000" stroke-width="1.1"/>
<circle cx="1594.4" cy="1080.4" r="8.8" fill="#fdb6a0" stroke="#000" stroke-width="1.1"/>
<circle cx="1589.3" cy="1095.8" r="8.8" fill="#fdb6a0" stroke="#000" stroke-width="1.1"/>
<circle cx="1597.3" cy="1115.1" r="8.8" fill="#fdb6a0" stroke="#000" stroke-width="1.1"/>
<text x="1405.1" y="1305" font-size="27.5" text-anchor="end" textLength="11.5" lengthAdjust="spacingAndGlyphs" transform="rotate(-45 1405.1 1305)">–</text>
<text x="1458.4" y="1311" font-size="27.5" text-anchor="end" textLength="82.4" lengthAdjust="spacingAndGlyphs" transform="rotate(-45 1458.4 1311)">H2897</text>
<text x="1510.7" y="1311" font-size="27.5" text-anchor="end" textLength="66.7" lengthAdjust="spacingAndGlyphs" transform="rotate(-45 1510.7 1311)">6649</text>
<text x="1560" y="1311" font-size="27.5" text-anchor="end" textLength="124.2" lengthAdjust="spacingAndGlyphs" transform="rotate(-45 1560 1311)">MEDI8852</text>
<text x="1609.3" y="1311" font-size="27.5" text-anchor="end" textLength="94" lengthAdjust="spacingAndGlyphs" transform="rotate(-45 1609.3 1311)">CR9114</text></svg></body></html>
